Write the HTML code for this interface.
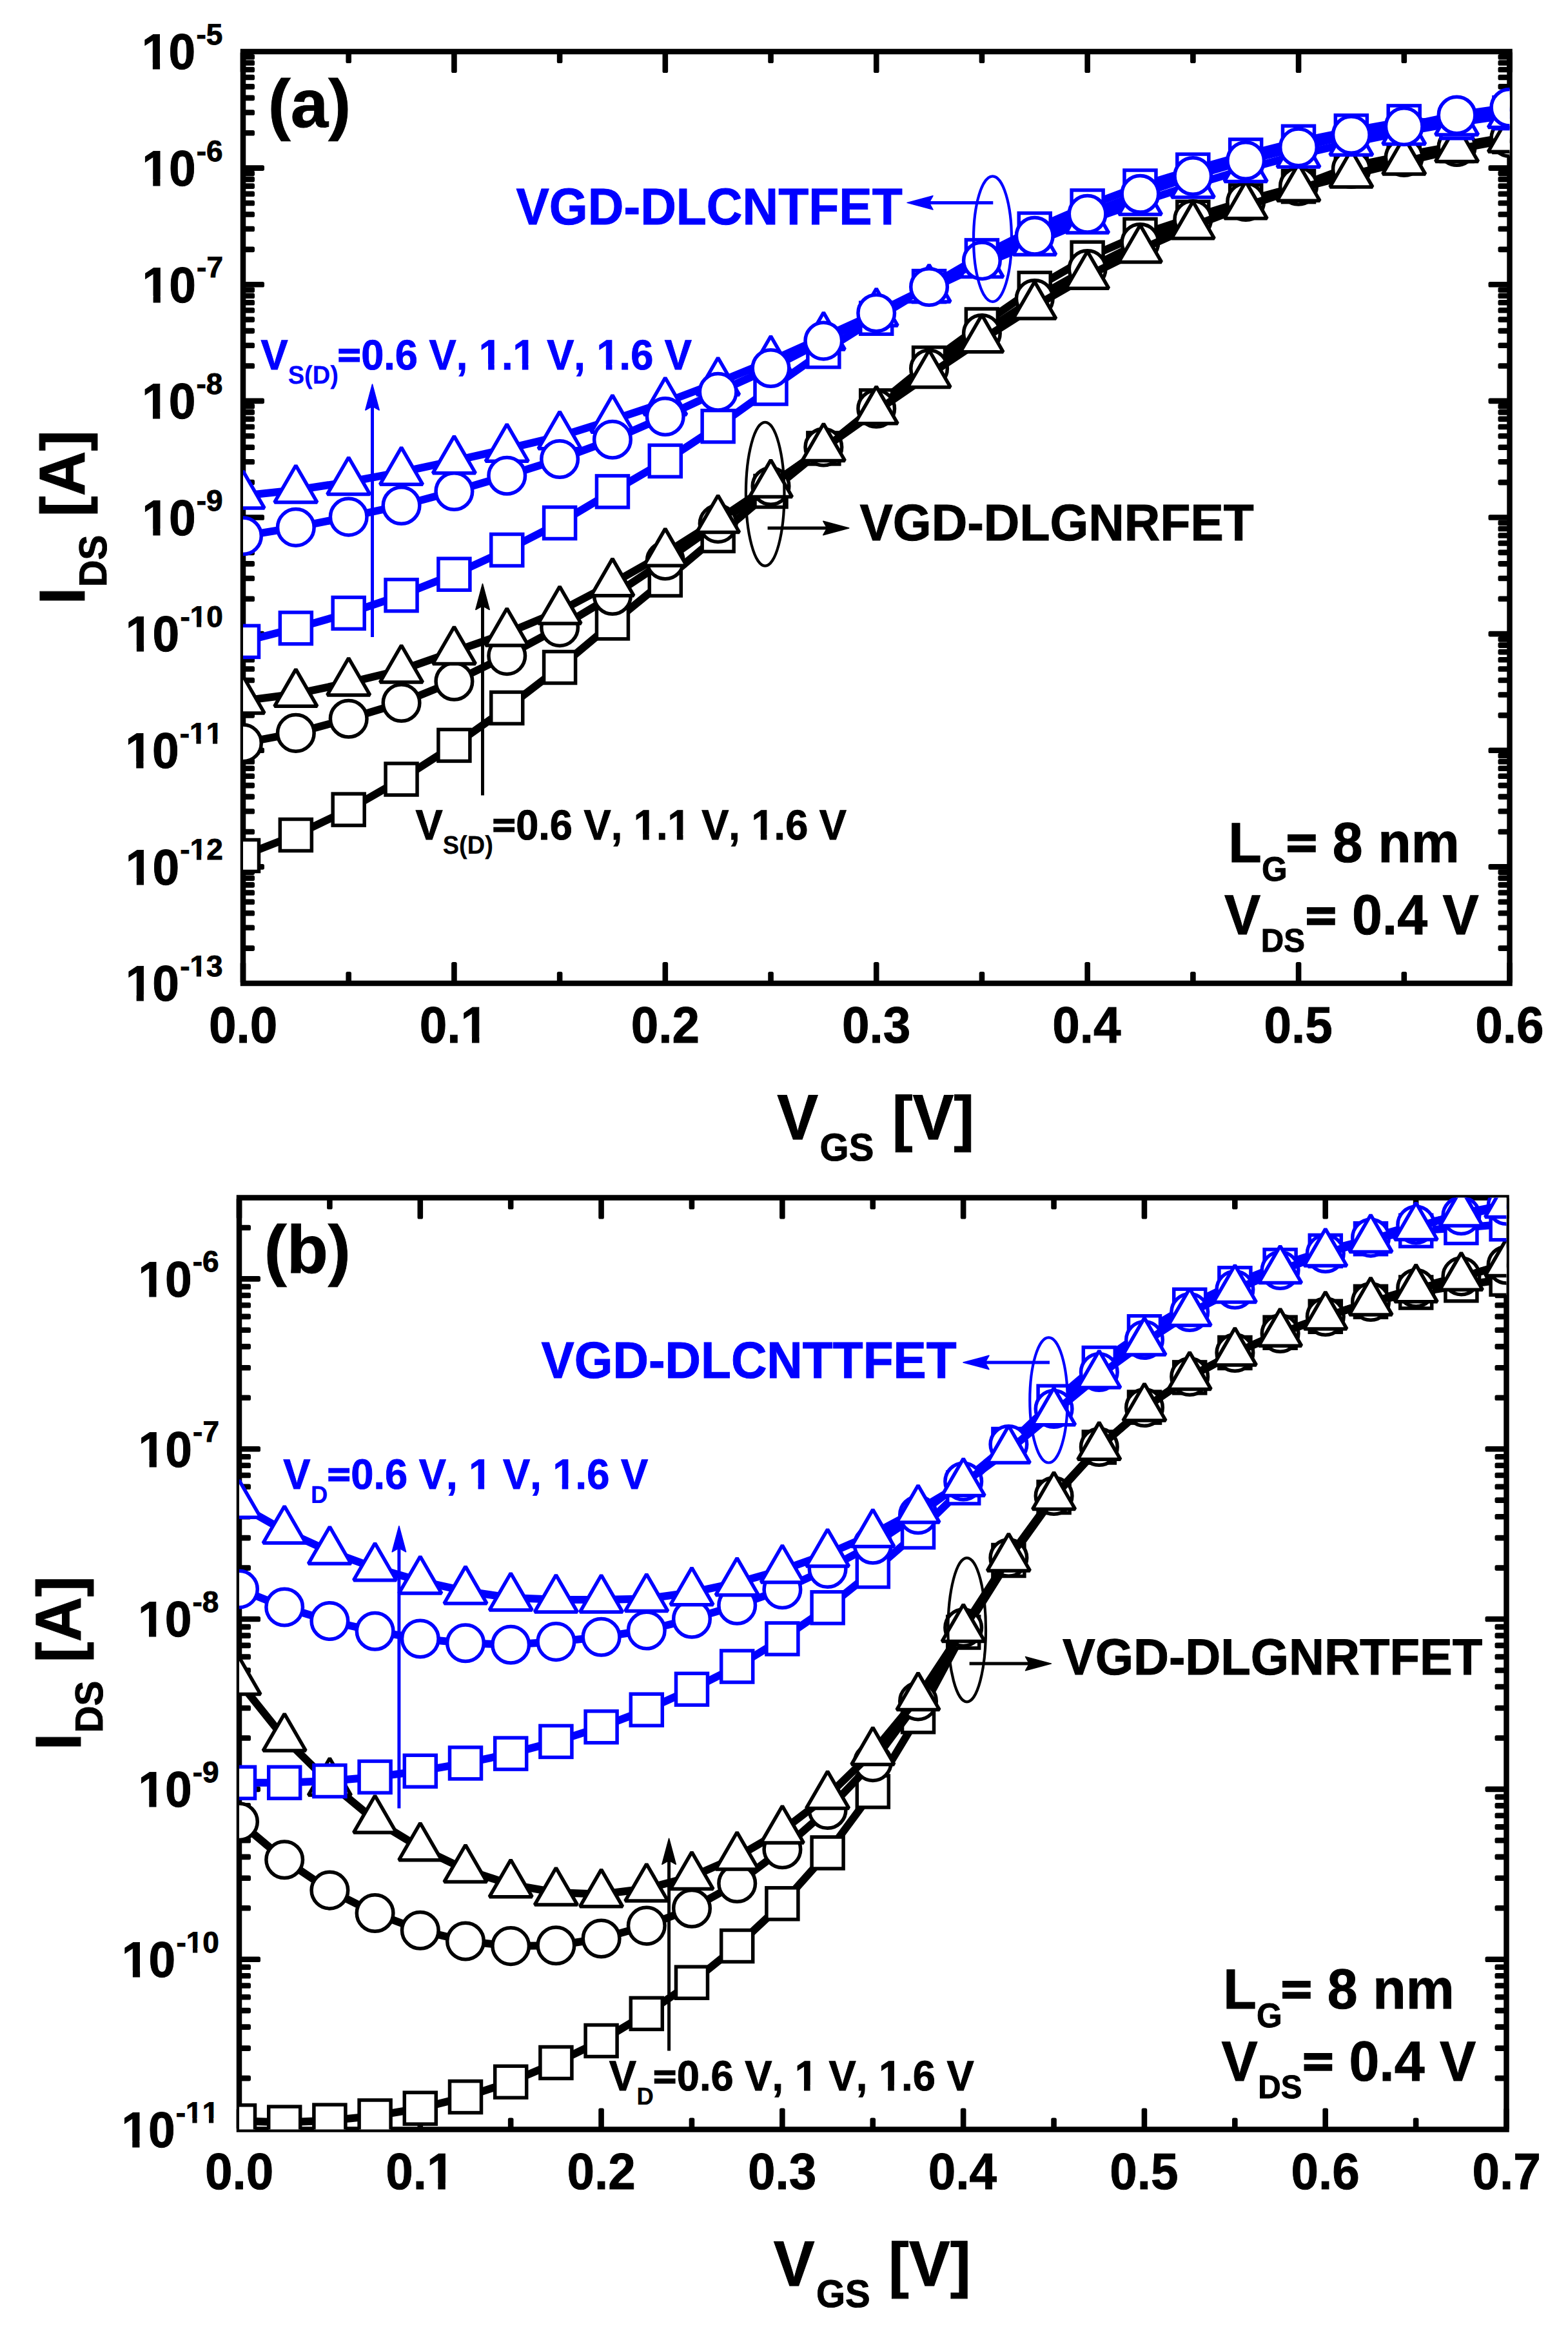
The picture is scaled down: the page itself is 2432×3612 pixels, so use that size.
<!DOCTYPE html>
<html><head><meta charset="utf-8"><title>I-V characteristics</title>
<style>html,body{margin:0;padding:0;background:#fff;}svg{display:block;}</style>
</head><body>
<svg width="2432" height="3612" viewBox="0 0 2432 3612" font-family="'Liberation Sans', Arial, sans-serif" style="font-kerning:none" text-rendering="geometricPrecision">
<rect width="100%" height="100%" fill="#fff"/>
<defs>
<clipPath id="ca"><rect x="377" y="80" width="1964.5" height="1445"/></clipPath>
<clipPath id="cb"><rect x="371" y="1857.5" width="1965.5" height="1445"/></clipPath>
</defs>
<rect x="377" y="80" width="1964.5" height="1445" fill="none" stroke="#000" stroke-width="8.5"/>
<g fill="#000"><rect x="372.7" y="1492" width="8.6" height="33" rx="2.6"/><rect x="372.7" y="80" width="8.6" height="33" rx="2.6"/><rect x="700.12" y="1492" width="8.6" height="33" rx="2.6"/><rect x="700.12" y="80" width="8.6" height="33" rx="2.6"/><rect x="1027.53" y="1492" width="8.6" height="33" rx="2.6"/><rect x="1027.53" y="80" width="8.6" height="33" rx="2.6"/><rect x="1354.95" y="1492" width="8.6" height="33" rx="2.6"/><rect x="1354.95" y="80" width="8.6" height="33" rx="2.6"/><rect x="1682.37" y="1492" width="8.6" height="33" rx="2.6"/><rect x="1682.37" y="80" width="8.6" height="33" rx="2.6"/><rect x="2009.78" y="1492" width="8.6" height="33" rx="2.6"/><rect x="2009.78" y="80" width="8.6" height="33" rx="2.6"/><rect x="2337.2" y="1492" width="8.6" height="33" rx="2.6"/><rect x="2337.2" y="80" width="8.6" height="33" rx="2.6"/><rect x="536.41" y="1507" width="8.6" height="18" rx="2.6"/><rect x="536.41" y="80" width="8.6" height="18" rx="2.6"/><rect x="863.83" y="1507" width="8.6" height="18" rx="2.6"/><rect x="863.83" y="80" width="8.6" height="18" rx="2.6"/><rect x="1191.24" y="1507" width="8.6" height="18" rx="2.6"/><rect x="1191.24" y="80" width="8.6" height="18" rx="2.6"/><rect x="1518.66" y="1507" width="8.6" height="18" rx="2.6"/><rect x="1518.66" y="80" width="8.6" height="18" rx="2.6"/><rect x="1846.08" y="1507" width="8.6" height="18" rx="2.6"/><rect x="1846.08" y="80" width="8.6" height="18" rx="2.6"/><rect x="2173.49" y="1507" width="8.6" height="18" rx="2.6"/><rect x="2173.49" y="80" width="8.6" height="18" rx="2.6"/><rect x="377" y="1466.33" width="18" height="8.6" rx="2.6"/><rect x="2323.5" y="1466.33" width="18" height="8.6" rx="2.6"/><rect x="377" y="1434.52" width="18" height="8.6" rx="2.6"/><rect x="2323.5" y="1434.52" width="18" height="8.6" rx="2.6"/><rect x="377" y="1411.95" width="18" height="8.6" rx="2.6"/><rect x="2323.5" y="1411.95" width="18" height="8.6" rx="2.6"/><rect x="377" y="1394.45" width="18" height="8.6" rx="2.6"/><rect x="2323.5" y="1394.45" width="18" height="8.6" rx="2.6"/><rect x="377" y="1380.15" width="18" height="8.6" rx="2.6"/><rect x="2323.5" y="1380.15" width="18" height="8.6" rx="2.6"/><rect x="377" y="1368.05" width="18" height="8.6" rx="2.6"/><rect x="2323.5" y="1368.05" width="18" height="8.6" rx="2.6"/><rect x="377" y="1357.58" width="18" height="8.6" rx="2.6"/><rect x="2323.5" y="1357.58" width="18" height="8.6" rx="2.6"/><rect x="377" y="1348.34" width="18" height="8.6" rx="2.6"/><rect x="2323.5" y="1348.34" width="18" height="8.6" rx="2.6"/><rect x="377" y="1340.08" width="33" height="8.6" rx="2.6"/><rect x="2308.5" y="1340.08" width="33" height="8.6" rx="2.6"/><rect x="377" y="1285.7" width="18" height="8.6" rx="2.6"/><rect x="2323.5" y="1285.7" width="18" height="8.6" rx="2.6"/><rect x="377" y="1253.89" width="18" height="8.6" rx="2.6"/><rect x="2323.5" y="1253.89" width="18" height="8.6" rx="2.6"/><rect x="377" y="1231.33" width="18" height="8.6" rx="2.6"/><rect x="2323.5" y="1231.33" width="18" height="8.6" rx="2.6"/><rect x="377" y="1213.82" width="18" height="8.6" rx="2.6"/><rect x="2323.5" y="1213.82" width="18" height="8.6" rx="2.6"/><rect x="377" y="1199.52" width="18" height="8.6" rx="2.6"/><rect x="2323.5" y="1199.52" width="18" height="8.6" rx="2.6"/><rect x="377" y="1187.43" width="18" height="8.6" rx="2.6"/><rect x="2323.5" y="1187.43" width="18" height="8.6" rx="2.6"/><rect x="377" y="1176.95" width="18" height="8.6" rx="2.6"/><rect x="2323.5" y="1176.95" width="18" height="8.6" rx="2.6"/><rect x="377" y="1167.71" width="18" height="8.6" rx="2.6"/><rect x="2323.5" y="1167.71" width="18" height="8.6" rx="2.6"/><rect x="377" y="1159.45" width="33" height="8.6" rx="2.6"/><rect x="2308.5" y="1159.45" width="33" height="8.6" rx="2.6"/><rect x="377" y="1105.08" width="18" height="8.6" rx="2.6"/><rect x="2323.5" y="1105.08" width="18" height="8.6" rx="2.6"/><rect x="377" y="1073.27" width="18" height="8.6" rx="2.6"/><rect x="2323.5" y="1073.27" width="18" height="8.6" rx="2.6"/><rect x="377" y="1050.7" width="18" height="8.6" rx="2.6"/><rect x="2323.5" y="1050.7" width="18" height="8.6" rx="2.6"/><rect x="377" y="1033.2" width="18" height="8.6" rx="2.6"/><rect x="2323.5" y="1033.2" width="18" height="8.6" rx="2.6"/><rect x="377" y="1018.9" width="18" height="8.6" rx="2.6"/><rect x="2323.5" y="1018.9" width="18" height="8.6" rx="2.6"/><rect x="377" y="1006.8" width="18" height="8.6" rx="2.6"/><rect x="2323.5" y="1006.8" width="18" height="8.6" rx="2.6"/><rect x="377" y="996.33" width="18" height="8.6" rx="2.6"/><rect x="2323.5" y="996.33" width="18" height="8.6" rx="2.6"/><rect x="377" y="987.09" width="18" height="8.6" rx="2.6"/><rect x="2323.5" y="987.09" width="18" height="8.6" rx="2.6"/><rect x="377" y="978.83" width="33" height="8.6" rx="2.6"/><rect x="2308.5" y="978.83" width="33" height="8.6" rx="2.6"/><rect x="377" y="924.45" width="18" height="8.6" rx="2.6"/><rect x="2323.5" y="924.45" width="18" height="8.6" rx="2.6"/><rect x="377" y="892.64" width="18" height="8.6" rx="2.6"/><rect x="2323.5" y="892.64" width="18" height="8.6" rx="2.6"/><rect x="377" y="870.08" width="18" height="8.6" rx="2.6"/><rect x="2323.5" y="870.08" width="18" height="8.6" rx="2.6"/><rect x="377" y="852.57" width="18" height="8.6" rx="2.6"/><rect x="2323.5" y="852.57" width="18" height="8.6" rx="2.6"/><rect x="377" y="838.27" width="18" height="8.6" rx="2.6"/><rect x="2323.5" y="838.27" width="18" height="8.6" rx="2.6"/><rect x="377" y="826.18" width="18" height="8.6" rx="2.6"/><rect x="2323.5" y="826.18" width="18" height="8.6" rx="2.6"/><rect x="377" y="815.7" width="18" height="8.6" rx="2.6"/><rect x="2323.5" y="815.7" width="18" height="8.6" rx="2.6"/><rect x="377" y="806.46" width="18" height="8.6" rx="2.6"/><rect x="2323.5" y="806.46" width="18" height="8.6" rx="2.6"/><rect x="377" y="798.2" width="33" height="8.6" rx="2.6"/><rect x="2308.5" y="798.2" width="33" height="8.6" rx="2.6"/><rect x="377" y="743.83" width="18" height="8.6" rx="2.6"/><rect x="2323.5" y="743.83" width="18" height="8.6" rx="2.6"/><rect x="377" y="712.02" width="18" height="8.6" rx="2.6"/><rect x="2323.5" y="712.02" width="18" height="8.6" rx="2.6"/><rect x="377" y="689.45" width="18" height="8.6" rx="2.6"/><rect x="2323.5" y="689.45" width="18" height="8.6" rx="2.6"/><rect x="377" y="671.95" width="18" height="8.6" rx="2.6"/><rect x="2323.5" y="671.95" width="18" height="8.6" rx="2.6"/><rect x="377" y="657.65" width="18" height="8.6" rx="2.6"/><rect x="2323.5" y="657.65" width="18" height="8.6" rx="2.6"/><rect x="377" y="645.55" width="18" height="8.6" rx="2.6"/><rect x="2323.5" y="645.55" width="18" height="8.6" rx="2.6"/><rect x="377" y="635.08" width="18" height="8.6" rx="2.6"/><rect x="2323.5" y="635.08" width="18" height="8.6" rx="2.6"/><rect x="377" y="625.84" width="18" height="8.6" rx="2.6"/><rect x="2323.5" y="625.84" width="18" height="8.6" rx="2.6"/><rect x="377" y="617.58" width="33" height="8.6" rx="2.6"/><rect x="2308.5" y="617.58" width="33" height="8.6" rx="2.6"/><rect x="377" y="563.2" width="18" height="8.6" rx="2.6"/><rect x="2323.5" y="563.2" width="18" height="8.6" rx="2.6"/><rect x="377" y="531.39" width="18" height="8.6" rx="2.6"/><rect x="2323.5" y="531.39" width="18" height="8.6" rx="2.6"/><rect x="377" y="508.83" width="18" height="8.6" rx="2.6"/><rect x="2323.5" y="508.83" width="18" height="8.6" rx="2.6"/><rect x="377" y="491.32" width="18" height="8.6" rx="2.6"/><rect x="2323.5" y="491.32" width="18" height="8.6" rx="2.6"/><rect x="377" y="477.02" width="18" height="8.6" rx="2.6"/><rect x="2323.5" y="477.02" width="18" height="8.6" rx="2.6"/><rect x="377" y="464.93" width="18" height="8.6" rx="2.6"/><rect x="2323.5" y="464.93" width="18" height="8.6" rx="2.6"/><rect x="377" y="454.45" width="18" height="8.6" rx="2.6"/><rect x="2323.5" y="454.45" width="18" height="8.6" rx="2.6"/><rect x="377" y="445.21" width="18" height="8.6" rx="2.6"/><rect x="2323.5" y="445.21" width="18" height="8.6" rx="2.6"/><rect x="377" y="436.95" width="33" height="8.6" rx="2.6"/><rect x="2308.5" y="436.95" width="33" height="8.6" rx="2.6"/><rect x="377" y="382.58" width="18" height="8.6" rx="2.6"/><rect x="2323.5" y="382.58" width="18" height="8.6" rx="2.6"/><rect x="377" y="350.77" width="18" height="8.6" rx="2.6"/><rect x="2323.5" y="350.77" width="18" height="8.6" rx="2.6"/><rect x="377" y="328.2" width="18" height="8.6" rx="2.6"/><rect x="2323.5" y="328.2" width="18" height="8.6" rx="2.6"/><rect x="377" y="310.7" width="18" height="8.6" rx="2.6"/><rect x="2323.5" y="310.7" width="18" height="8.6" rx="2.6"/><rect x="377" y="296.4" width="18" height="8.6" rx="2.6"/><rect x="2323.5" y="296.4" width="18" height="8.6" rx="2.6"/><rect x="377" y="284.3" width="18" height="8.6" rx="2.6"/><rect x="2323.5" y="284.3" width="18" height="8.6" rx="2.6"/><rect x="377" y="273.83" width="18" height="8.6" rx="2.6"/><rect x="2323.5" y="273.83" width="18" height="8.6" rx="2.6"/><rect x="377" y="264.59" width="18" height="8.6" rx="2.6"/><rect x="2323.5" y="264.59" width="18" height="8.6" rx="2.6"/><rect x="377" y="256.32" width="33" height="8.6" rx="2.6"/><rect x="2308.5" y="256.32" width="33" height="8.6" rx="2.6"/><rect x="377" y="201.95" width="18" height="8.6" rx="2.6"/><rect x="2323.5" y="201.95" width="18" height="8.6" rx="2.6"/><rect x="377" y="170.14" width="18" height="8.6" rx="2.6"/><rect x="2323.5" y="170.14" width="18" height="8.6" rx="2.6"/><rect x="377" y="147.58" width="18" height="8.6" rx="2.6"/><rect x="2323.5" y="147.58" width="18" height="8.6" rx="2.6"/><rect x="377" y="130.07" width="18" height="8.6" rx="2.6"/><rect x="2323.5" y="130.07" width="18" height="8.6" rx="2.6"/><rect x="377" y="115.77" width="18" height="8.6" rx="2.6"/><rect x="2323.5" y="115.77" width="18" height="8.6" rx="2.6"/><rect x="377" y="103.68" width="18" height="8.6" rx="2.6"/><rect x="2323.5" y="103.68" width="18" height="8.6" rx="2.6"/><rect x="377" y="93.2" width="18" height="8.6" rx="2.6"/><rect x="2323.5" y="93.2" width="18" height="8.6" rx="2.6"/><rect x="377" y="83.96" width="18" height="8.6" rx="2.6"/><rect x="2323.5" y="83.96" width="18" height="8.6" rx="2.6"/></g>
<rect x="371" y="1857.5" width="1965.5" height="1445" fill="none" stroke="#000" stroke-width="8.5"/>
<g fill="#000"><rect x="366.7" y="3269.5" width="8.6" height="33" rx="2.6"/><rect x="366.7" y="1857.5" width="8.6" height="33" rx="2.6"/><rect x="647.49" y="3269.5" width="8.6" height="33" rx="2.6"/><rect x="647.49" y="1857.5" width="8.6" height="33" rx="2.6"/><rect x="928.27" y="3269.5" width="8.6" height="33" rx="2.6"/><rect x="928.27" y="1857.5" width="8.6" height="33" rx="2.6"/><rect x="1209.06" y="3269.5" width="8.6" height="33" rx="2.6"/><rect x="1209.06" y="1857.5" width="8.6" height="33" rx="2.6"/><rect x="1489.84" y="3269.5" width="8.6" height="33" rx="2.6"/><rect x="1489.84" y="1857.5" width="8.6" height="33" rx="2.6"/><rect x="1770.63" y="3269.5" width="8.6" height="33" rx="2.6"/><rect x="1770.63" y="1857.5" width="8.6" height="33" rx="2.6"/><rect x="2051.41" y="3269.5" width="8.6" height="33" rx="2.6"/><rect x="2051.41" y="1857.5" width="8.6" height="33" rx="2.6"/><rect x="2332.2" y="3269.5" width="8.6" height="33" rx="2.6"/><rect x="2332.2" y="1857.5" width="8.6" height="33" rx="2.6"/><rect x="507.09" y="3284.5" width="8.6" height="18" rx="2.6"/><rect x="507.09" y="1857.5" width="8.6" height="18" rx="2.6"/><rect x="787.88" y="3284.5" width="8.6" height="18" rx="2.6"/><rect x="787.88" y="1857.5" width="8.6" height="18" rx="2.6"/><rect x="1068.66" y="3284.5" width="8.6" height="18" rx="2.6"/><rect x="1068.66" y="1857.5" width="8.6" height="18" rx="2.6"/><rect x="1349.45" y="3284.5" width="8.6" height="18" rx="2.6"/><rect x="1349.45" y="1857.5" width="8.6" height="18" rx="2.6"/><rect x="1630.24" y="3284.5" width="8.6" height="18" rx="2.6"/><rect x="1630.24" y="1857.5" width="8.6" height="18" rx="2.6"/><rect x="1911.02" y="3284.5" width="8.6" height="18" rx="2.6"/><rect x="1911.02" y="1857.5" width="8.6" height="18" rx="2.6"/><rect x="2191.81" y="3284.5" width="8.6" height="18" rx="2.6"/><rect x="2191.81" y="1857.5" width="8.6" height="18" rx="2.6"/><rect x="371" y="3218.78" width="18" height="8.6" rx="2.6"/><rect x="2318.5" y="3218.78" width="18" height="8.6" rx="2.6"/><rect x="371" y="3172.32" width="18" height="8.6" rx="2.6"/><rect x="2318.5" y="3172.32" width="18" height="8.6" rx="2.6"/><rect x="371" y="3139.36" width="18" height="8.6" rx="2.6"/><rect x="2318.5" y="3139.36" width="18" height="8.6" rx="2.6"/><rect x="371" y="3113.79" width="18" height="8.6" rx="2.6"/><rect x="2318.5" y="3113.79" width="18" height="8.6" rx="2.6"/><rect x="371" y="3092.9" width="18" height="8.6" rx="2.6"/><rect x="2318.5" y="3092.9" width="18" height="8.6" rx="2.6"/><rect x="371" y="3075.24" width="18" height="8.6" rx="2.6"/><rect x="2318.5" y="3075.24" width="18" height="8.6" rx="2.6"/><rect x="371" y="3059.94" width="18" height="8.6" rx="2.6"/><rect x="2318.5" y="3059.94" width="18" height="8.6" rx="2.6"/><rect x="371" y="3046.45" width="18" height="8.6" rx="2.6"/><rect x="2318.5" y="3046.45" width="18" height="8.6" rx="2.6"/><rect x="371" y="3034.38" width="33" height="8.6" rx="2.6"/><rect x="2303.5" y="3034.38" width="33" height="8.6" rx="2.6"/><rect x="371" y="2954.96" width="18" height="8.6" rx="2.6"/><rect x="2318.5" y="2954.96" width="18" height="8.6" rx="2.6"/><rect x="371" y="2908.5" width="18" height="8.6" rx="2.6"/><rect x="2318.5" y="2908.5" width="18" height="8.6" rx="2.6"/><rect x="371" y="2875.54" width="18" height="8.6" rx="2.6"/><rect x="2318.5" y="2875.54" width="18" height="8.6" rx="2.6"/><rect x="371" y="2849.97" width="18" height="8.6" rx="2.6"/><rect x="2318.5" y="2849.97" width="18" height="8.6" rx="2.6"/><rect x="371" y="2829.08" width="18" height="8.6" rx="2.6"/><rect x="2318.5" y="2829.08" width="18" height="8.6" rx="2.6"/><rect x="371" y="2811.42" width="18" height="8.6" rx="2.6"/><rect x="2318.5" y="2811.42" width="18" height="8.6" rx="2.6"/><rect x="371" y="2796.12" width="18" height="8.6" rx="2.6"/><rect x="2318.5" y="2796.12" width="18" height="8.6" rx="2.6"/><rect x="371" y="2782.62" width="18" height="8.6" rx="2.6"/><rect x="2318.5" y="2782.62" width="18" height="8.6" rx="2.6"/><rect x="371" y="2770.55" width="33" height="8.6" rx="2.6"/><rect x="2303.5" y="2770.55" width="33" height="8.6" rx="2.6"/><rect x="371" y="2691.13" width="18" height="8.6" rx="2.6"/><rect x="2318.5" y="2691.13" width="18" height="8.6" rx="2.6"/><rect x="371" y="2644.67" width="18" height="8.6" rx="2.6"/><rect x="2318.5" y="2644.67" width="18" height="8.6" rx="2.6"/><rect x="371" y="2611.71" width="18" height="8.6" rx="2.6"/><rect x="2318.5" y="2611.71" width="18" height="8.6" rx="2.6"/><rect x="371" y="2586.14" width="18" height="8.6" rx="2.6"/><rect x="2318.5" y="2586.14" width="18" height="8.6" rx="2.6"/><rect x="371" y="2565.26" width="18" height="8.6" rx="2.6"/><rect x="2318.5" y="2565.26" width="18" height="8.6" rx="2.6"/><rect x="371" y="2547.59" width="18" height="8.6" rx="2.6"/><rect x="2318.5" y="2547.59" width="18" height="8.6" rx="2.6"/><rect x="371" y="2532.29" width="18" height="8.6" rx="2.6"/><rect x="2318.5" y="2532.29" width="18" height="8.6" rx="2.6"/><rect x="371" y="2518.8" width="18" height="8.6" rx="2.6"/><rect x="2318.5" y="2518.8" width="18" height="8.6" rx="2.6"/><rect x="371" y="2506.73" width="33" height="8.6" rx="2.6"/><rect x="2303.5" y="2506.73" width="33" height="8.6" rx="2.6"/><rect x="371" y="2427.31" width="18" height="8.6" rx="2.6"/><rect x="2318.5" y="2427.31" width="18" height="8.6" rx="2.6"/><rect x="371" y="2380.85" width="18" height="8.6" rx="2.6"/><rect x="2318.5" y="2380.85" width="18" height="8.6" rx="2.6"/><rect x="371" y="2347.89" width="18" height="8.6" rx="2.6"/><rect x="2318.5" y="2347.89" width="18" height="8.6" rx="2.6"/><rect x="371" y="2322.32" width="18" height="8.6" rx="2.6"/><rect x="2318.5" y="2322.32" width="18" height="8.6" rx="2.6"/><rect x="371" y="2301.43" width="18" height="8.6" rx="2.6"/><rect x="2318.5" y="2301.43" width="18" height="8.6" rx="2.6"/><rect x="371" y="2283.77" width="18" height="8.6" rx="2.6"/><rect x="2318.5" y="2283.77" width="18" height="8.6" rx="2.6"/><rect x="371" y="2268.47" width="18" height="8.6" rx="2.6"/><rect x="2318.5" y="2268.47" width="18" height="8.6" rx="2.6"/><rect x="371" y="2254.97" width="18" height="8.6" rx="2.6"/><rect x="2318.5" y="2254.97" width="18" height="8.6" rx="2.6"/><rect x="371" y="2242.9" width="33" height="8.6" rx="2.6"/><rect x="2303.5" y="2242.9" width="33" height="8.6" rx="2.6"/><rect x="371" y="2163.48" width="18" height="8.6" rx="2.6"/><rect x="2318.5" y="2163.48" width="18" height="8.6" rx="2.6"/><rect x="371" y="2117.02" width="18" height="8.6" rx="2.6"/><rect x="2318.5" y="2117.02" width="18" height="8.6" rx="2.6"/><rect x="371" y="2084.06" width="18" height="8.6" rx="2.6"/><rect x="2318.5" y="2084.06" width="18" height="8.6" rx="2.6"/><rect x="371" y="2058.5" width="18" height="8.6" rx="2.6"/><rect x="2318.5" y="2058.5" width="18" height="8.6" rx="2.6"/><rect x="371" y="2037.61" width="18" height="8.6" rx="2.6"/><rect x="2318.5" y="2037.61" width="18" height="8.6" rx="2.6"/><rect x="371" y="2019.94" width="18" height="8.6" rx="2.6"/><rect x="2318.5" y="2019.94" width="18" height="8.6" rx="2.6"/><rect x="371" y="2004.64" width="18" height="8.6" rx="2.6"/><rect x="2318.5" y="2004.64" width="18" height="8.6" rx="2.6"/><rect x="371" y="1991.15" width="18" height="8.6" rx="2.6"/><rect x="2318.5" y="1991.15" width="18" height="8.6" rx="2.6"/><rect x="371" y="1979.08" width="33" height="8.6" rx="2.6"/><rect x="2303.5" y="1979.08" width="33" height="8.6" rx="2.6"/><rect x="371" y="1899.66" width="18" height="8.6" rx="2.6"/><rect x="2318.5" y="1899.66" width="18" height="8.6" rx="2.6"/></g>
<g clip-path="url(#ca)">
<polyline points="377,1327 458.85,1295 540.7,1255.6 622.55,1208.5 704.4,1155.9 786.25,1097.9 868.1,1035 949.95,966.4 1031.8,899.5 1113.65,830.9 1195.5,762 1277.35,695.4 1359.2,629.4 1441.05,563 1522.9,503.5 1604.75,447 1686.6,399.8 1768.45,364 1850.3,336.9 1932.15,311.4 2014,289.1 2095.85,258 2177.7,241 2259.55,226 2341.4,212" fill="none" stroke="#000" stroke-width="12" stroke-linejoin="round"/>
<rect x="352.5" y="1302.5" width="49.0" height="49.0" fill="#fff" stroke="#000" stroke-width="5.5"/>
<rect x="434.35" y="1270.5" width="49.0" height="49.0" fill="#fff" stroke="#000" stroke-width="5.5"/>
<rect x="516.2" y="1231.1" width="49.0" height="49.0" fill="#fff" stroke="#000" stroke-width="5.5"/>
<rect x="598.05" y="1184" width="49.0" height="49.0" fill="#fff" stroke="#000" stroke-width="5.5"/>
<rect x="679.9" y="1131.4" width="49.0" height="49.0" fill="#fff" stroke="#000" stroke-width="5.5"/>
<rect x="761.75" y="1073.4" width="49.0" height="49.0" fill="#fff" stroke="#000" stroke-width="5.5"/>
<rect x="843.6" y="1010.5" width="49.0" height="49.0" fill="#fff" stroke="#000" stroke-width="5.5"/>
<rect x="925.45" y="941.9" width="49.0" height="49.0" fill="#fff" stroke="#000" stroke-width="5.5"/>
<rect x="1007.3" y="875" width="49.0" height="49.0" fill="#fff" stroke="#000" stroke-width="5.5"/>
<rect x="1089.15" y="806.4" width="49.0" height="49.0" fill="#fff" stroke="#000" stroke-width="5.5"/>
<rect x="1171" y="737.5" width="49.0" height="49.0" fill="#fff" stroke="#000" stroke-width="5.5"/>
<rect x="1252.85" y="670.9" width="49.0" height="49.0" fill="#fff" stroke="#000" stroke-width="5.5"/>
<rect x="1334.7" y="604.9" width="49.0" height="49.0" fill="#fff" stroke="#000" stroke-width="5.5"/>
<rect x="1416.55" y="538.5" width="49.0" height="49.0" fill="#fff" stroke="#000" stroke-width="5.5"/>
<rect x="1498.4" y="479" width="49.0" height="49.0" fill="#fff" stroke="#000" stroke-width="5.5"/>
<rect x="1580.25" y="422.5" width="49.0" height="49.0" fill="#fff" stroke="#000" stroke-width="5.5"/>
<rect x="1662.1" y="375.3" width="49.0" height="49.0" fill="#fff" stroke="#000" stroke-width="5.5"/>
<rect x="1743.95" y="339.5" width="49.0" height="49.0" fill="#fff" stroke="#000" stroke-width="5.5"/>
<rect x="1825.8" y="312.4" width="49.0" height="49.0" fill="#fff" stroke="#000" stroke-width="5.5"/>
<rect x="1907.65" y="286.9" width="49.0" height="49.0" fill="#fff" stroke="#000" stroke-width="5.5"/>
<rect x="1989.5" y="264.6" width="49.0" height="49.0" fill="#fff" stroke="#000" stroke-width="5.5"/>
<rect x="2071.35" y="233.5" width="49.0" height="49.0" fill="#fff" stroke="#000" stroke-width="5.5"/>
<rect x="2153.2" y="216.5" width="49.0" height="49.0" fill="#fff" stroke="#000" stroke-width="5.5"/>
<rect x="2235.05" y="201.5" width="49.0" height="49.0" fill="#fff" stroke="#000" stroke-width="5.5"/>
<rect x="2316.9" y="187.5" width="49.0" height="49.0" fill="#fff" stroke="#000" stroke-width="5.5"/>
</g>
<g clip-path="url(#ca)">
<polyline points="377,1152.4 458.85,1136.9 540.7,1114.8 622.55,1090 704.4,1056.8 786.25,1017.1 868.1,973.1 949.95,924 1031.8,869.5 1113.65,812.1 1195.5,754 1277.35,693.5 1359.2,633.8 1441.05,571.6 1522.9,517 1604.75,463 1686.6,417 1768.45,376 1850.3,340 1932.15,313 2014,288.7 2095.85,262 2177.7,244 2259.55,228 2341.4,214" fill="none" stroke="#000" stroke-width="12" stroke-linejoin="round"/>
<circle cx="377" cy="1152.4" r="28.3" fill="#fff" stroke="#000" stroke-width="5.5"/>
<circle cx="458.85" cy="1136.9" r="28.3" fill="#fff" stroke="#000" stroke-width="5.5"/>
<circle cx="540.7" cy="1114.8" r="28.3" fill="#fff" stroke="#000" stroke-width="5.5"/>
<circle cx="622.55" cy="1090" r="28.3" fill="#fff" stroke="#000" stroke-width="5.5"/>
<circle cx="704.4" cy="1056.8" r="28.3" fill="#fff" stroke="#000" stroke-width="5.5"/>
<circle cx="786.25" cy="1017.1" r="28.3" fill="#fff" stroke="#000" stroke-width="5.5"/>
<circle cx="868.1" cy="973.1" r="28.3" fill="#fff" stroke="#000" stroke-width="5.5"/>
<circle cx="949.95" cy="924" r="28.3" fill="#fff" stroke="#000" stroke-width="5.5"/>
<circle cx="1031.8" cy="869.5" r="28.3" fill="#fff" stroke="#000" stroke-width="5.5"/>
<circle cx="1113.65" cy="812.1" r="28.3" fill="#fff" stroke="#000" stroke-width="5.5"/>
<circle cx="1195.5" cy="754" r="28.3" fill="#fff" stroke="#000" stroke-width="5.5"/>
<circle cx="1277.35" cy="693.5" r="28.3" fill="#fff" stroke="#000" stroke-width="5.5"/>
<circle cx="1359.2" cy="633.8" r="28.3" fill="#fff" stroke="#000" stroke-width="5.5"/>
<circle cx="1441.05" cy="571.6" r="28.3" fill="#fff" stroke="#000" stroke-width="5.5"/>
<circle cx="1522.9" cy="517" r="28.3" fill="#fff" stroke="#000" stroke-width="5.5"/>
<circle cx="1604.75" cy="463" r="28.3" fill="#fff" stroke="#000" stroke-width="5.5"/>
<circle cx="1686.6" cy="417" r="28.3" fill="#fff" stroke="#000" stroke-width="5.5"/>
<circle cx="1768.45" cy="376" r="28.3" fill="#fff" stroke="#000" stroke-width="5.5"/>
<circle cx="1850.3" cy="340" r="28.3" fill="#fff" stroke="#000" stroke-width="5.5"/>
<circle cx="1932.15" cy="313" r="28.3" fill="#fff" stroke="#000" stroke-width="5.5"/>
<circle cx="2014" cy="288.7" r="28.3" fill="#fff" stroke="#000" stroke-width="5.5"/>
<circle cx="2095.85" cy="262" r="28.3" fill="#fff" stroke="#000" stroke-width="5.5"/>
<circle cx="2177.7" cy="244" r="28.3" fill="#fff" stroke="#000" stroke-width="5.5"/>
<circle cx="2259.55" cy="228" r="28.3" fill="#fff" stroke="#000" stroke-width="5.5"/>
<circle cx="2341.4" cy="214" r="28.3" fill="#fff" stroke="#000" stroke-width="5.5"/>
</g>
<g clip-path="url(#ca)">
<polyline points="377,1086.8 458.85,1076.2 540.7,1058.8 622.55,1039 704.4,1010.3 786.25,981.9 868.1,947.8 949.95,904.7 1031.8,858.2 1113.65,806.5 1195.5,751.5 1277.35,695.3 1359.2,637.7 1441.05,581.3 1522.9,526.7 1604.75,475 1686.6,428.1 1768.45,387.3 1850.3,350.7 1932.15,319.7 2014,292.2 2095.85,270.9 2177.7,250.9 2259.55,231.4 2341.4,216.1" fill="none" stroke="#000" stroke-width="12" stroke-linejoin="round"/>
<path d="M377 1048.6L410.1 1105.9L343.9 1105.9Z" fill="#fff" stroke="#000" stroke-width="5.5" stroke-linejoin="bevel"/>
<path d="M458.85 1038L491.95 1095.3L425.75 1095.3Z" fill="#fff" stroke="#000" stroke-width="5.5" stroke-linejoin="bevel"/>
<path d="M540.7 1020.6L573.8 1077.9L507.6 1077.9Z" fill="#fff" stroke="#000" stroke-width="5.5" stroke-linejoin="bevel"/>
<path d="M622.55 1000.8L655.65 1058.1L589.45 1058.1Z" fill="#fff" stroke="#000" stroke-width="5.5" stroke-linejoin="bevel"/>
<path d="M704.4 972.1L737.5 1029.4L671.3 1029.4Z" fill="#fff" stroke="#000" stroke-width="5.5" stroke-linejoin="bevel"/>
<path d="M786.25 943.7L819.35 1001L753.15 1001Z" fill="#fff" stroke="#000" stroke-width="5.5" stroke-linejoin="bevel"/>
<path d="M868.1 909.6L901.2 966.9L835 966.9Z" fill="#fff" stroke="#000" stroke-width="5.5" stroke-linejoin="bevel"/>
<path d="M949.95 866.5L983.05 923.8L916.85 923.8Z" fill="#fff" stroke="#000" stroke-width="5.5" stroke-linejoin="bevel"/>
<path d="M1031.8 820L1064.9 877.3L998.7 877.3Z" fill="#fff" stroke="#000" stroke-width="5.5" stroke-linejoin="bevel"/>
<path d="M1113.65 768.3L1146.75 825.6L1080.55 825.6Z" fill="#fff" stroke="#000" stroke-width="5.5" stroke-linejoin="bevel"/>
<path d="M1195.5 713.3L1228.6 770.6L1162.4 770.6Z" fill="#fff" stroke="#000" stroke-width="5.5" stroke-linejoin="bevel"/>
<path d="M1277.35 657.1L1310.45 714.4L1244.25 714.4Z" fill="#fff" stroke="#000" stroke-width="5.5" stroke-linejoin="bevel"/>
<path d="M1359.2 599.5L1392.3 656.8L1326.1 656.8Z" fill="#fff" stroke="#000" stroke-width="5.5" stroke-linejoin="bevel"/>
<path d="M1441.05 543.1L1474.15 600.4L1407.95 600.4Z" fill="#fff" stroke="#000" stroke-width="5.5" stroke-linejoin="bevel"/>
<path d="M1522.9 488.5L1556 545.8L1489.8 545.8Z" fill="#fff" stroke="#000" stroke-width="5.5" stroke-linejoin="bevel"/>
<path d="M1604.75 436.8L1637.85 494.1L1571.65 494.1Z" fill="#fff" stroke="#000" stroke-width="5.5" stroke-linejoin="bevel"/>
<path d="M1686.6 389.9L1719.7 447.2L1653.5 447.2Z" fill="#fff" stroke="#000" stroke-width="5.5" stroke-linejoin="bevel"/>
<path d="M1768.45 349.1L1801.55 406.4L1735.35 406.4Z" fill="#fff" stroke="#000" stroke-width="5.5" stroke-linejoin="bevel"/>
<path d="M1850.3 312.5L1883.4 369.8L1817.2 369.8Z" fill="#fff" stroke="#000" stroke-width="5.5" stroke-linejoin="bevel"/>
<path d="M1932.15 281.5L1965.25 338.8L1899.05 338.8Z" fill="#fff" stroke="#000" stroke-width="5.5" stroke-linejoin="bevel"/>
<path d="M2014 254L2047.1 311.3L1980.9 311.3Z" fill="#fff" stroke="#000" stroke-width="5.5" stroke-linejoin="bevel"/>
<path d="M2095.85 232.7L2128.95 290L2062.75 290Z" fill="#fff" stroke="#000" stroke-width="5.5" stroke-linejoin="bevel"/>
<path d="M2177.7 212.7L2210.8 270L2144.6 270Z" fill="#fff" stroke="#000" stroke-width="5.5" stroke-linejoin="bevel"/>
<path d="M2259.55 193.2L2292.65 250.5L2226.45 250.5Z" fill="#fff" stroke="#000" stroke-width="5.5" stroke-linejoin="bevel"/>
<path d="M2341.4 177.9L2374.5 235.2L2308.3 235.2Z" fill="#fff" stroke="#000" stroke-width="5.5" stroke-linejoin="bevel"/>
</g>
<g clip-path="url(#ca)">
<polyline points="377,994.9 458.85,974.2 540.7,950.9 622.55,923.2 704.4,890.7 786.25,853 868.1,811 949.95,762.4 1031.8,714.9 1113.65,661.1 1195.5,602.5 1277.35,545.1 1359.2,493.7 1441.05,444.1 1522.9,396.4 1604.75,355 1686.6,319.4 1768.45,288.5 1850.3,263.6 1932.15,240.6 2014,219.8 2095.85,203.2 2177.7,188.4 2259.55,190.2 2341.4,175.1" fill="none" stroke="#0000ff" stroke-width="12" stroke-linejoin="round"/>
<rect x="352.5" y="970.4" width="49.0" height="49.0" fill="#fff" stroke="#0000ff" stroke-width="5.5"/>
<rect x="434.35" y="949.7" width="49.0" height="49.0" fill="#fff" stroke="#0000ff" stroke-width="5.5"/>
<rect x="516.2" y="926.4" width="49.0" height="49.0" fill="#fff" stroke="#0000ff" stroke-width="5.5"/>
<rect x="598.05" y="898.7" width="49.0" height="49.0" fill="#fff" stroke="#0000ff" stroke-width="5.5"/>
<rect x="679.9" y="866.2" width="49.0" height="49.0" fill="#fff" stroke="#0000ff" stroke-width="5.5"/>
<rect x="761.75" y="828.5" width="49.0" height="49.0" fill="#fff" stroke="#0000ff" stroke-width="5.5"/>
<rect x="843.6" y="786.5" width="49.0" height="49.0" fill="#fff" stroke="#0000ff" stroke-width="5.5"/>
<rect x="925.45" y="737.9" width="49.0" height="49.0" fill="#fff" stroke="#0000ff" stroke-width="5.5"/>
<rect x="1007.3" y="690.4" width="49.0" height="49.0" fill="#fff" stroke="#0000ff" stroke-width="5.5"/>
<rect x="1089.15" y="636.6" width="49.0" height="49.0" fill="#fff" stroke="#0000ff" stroke-width="5.5"/>
<rect x="1171" y="578" width="49.0" height="49.0" fill="#fff" stroke="#0000ff" stroke-width="5.5"/>
<rect x="1252.85" y="520.6" width="49.0" height="49.0" fill="#fff" stroke="#0000ff" stroke-width="5.5"/>
<rect x="1334.7" y="469.2" width="49.0" height="49.0" fill="#fff" stroke="#0000ff" stroke-width="5.5"/>
<rect x="1416.55" y="419.6" width="49.0" height="49.0" fill="#fff" stroke="#0000ff" stroke-width="5.5"/>
<rect x="1498.4" y="371.9" width="49.0" height="49.0" fill="#fff" stroke="#0000ff" stroke-width="5.5"/>
<rect x="1580.25" y="330.5" width="49.0" height="49.0" fill="#fff" stroke="#0000ff" stroke-width="5.5"/>
<rect x="1662.1" y="294.9" width="49.0" height="49.0" fill="#fff" stroke="#0000ff" stroke-width="5.5"/>
<rect x="1743.95" y="264" width="49.0" height="49.0" fill="#fff" stroke="#0000ff" stroke-width="5.5"/>
<rect x="1825.8" y="239.1" width="49.0" height="49.0" fill="#fff" stroke="#0000ff" stroke-width="5.5"/>
<rect x="1907.65" y="216.1" width="49.0" height="49.0" fill="#fff" stroke="#0000ff" stroke-width="5.5"/>
<rect x="1989.5" y="195.3" width="49.0" height="49.0" fill="#fff" stroke="#0000ff" stroke-width="5.5"/>
<rect x="2071.35" y="178.7" width="49.0" height="49.0" fill="#fff" stroke="#0000ff" stroke-width="5.5"/>
<rect x="2153.2" y="163.9" width="49.0" height="49.0" fill="#fff" stroke="#0000ff" stroke-width="5.5"/>
<rect x="2235.05" y="165.7" width="49.0" height="49.0" fill="#fff" stroke="#0000ff" stroke-width="5.5"/>
<rect x="2316.9" y="150.6" width="49.0" height="49.0" fill="#fff" stroke="#0000ff" stroke-width="5.5"/>
</g>
<g clip-path="url(#ca)">
<polyline points="377,768.9 458.85,760 540.7,747.5 622.55,732.2 704.4,714.7 786.25,696.2 868.1,676.7 949.95,651.2 1031.8,624 1113.65,593.1 1195.5,559.6 1277.35,522.9 1359.2,485.8 1441.05,448.9 1522.9,410.3 1604.75,375.8 1686.6,342 1768.45,313.4 1850.3,286.9 1932.15,262.3 2014,240 2095.85,221.2 2177.7,204.3 2259.55,189.8 2341.4,178.4" fill="none" stroke="#0000ff" stroke-width="12" stroke-linejoin="round"/>
<path d="M377 730.7L410.1 788L343.9 788Z" fill="#fff" stroke="#0000ff" stroke-width="5.5" stroke-linejoin="bevel"/>
<path d="M458.85 721.8L491.95 779.1L425.75 779.1Z" fill="#fff" stroke="#0000ff" stroke-width="5.5" stroke-linejoin="bevel"/>
<path d="M540.7 709.3L573.8 766.6L507.6 766.6Z" fill="#fff" stroke="#0000ff" stroke-width="5.5" stroke-linejoin="bevel"/>
<path d="M622.55 694L655.65 751.3L589.45 751.3Z" fill="#fff" stroke="#0000ff" stroke-width="5.5" stroke-linejoin="bevel"/>
<path d="M704.4 676.5L737.5 733.8L671.3 733.8Z" fill="#fff" stroke="#0000ff" stroke-width="5.5" stroke-linejoin="bevel"/>
<path d="M786.25 658L819.35 715.3L753.15 715.3Z" fill="#fff" stroke="#0000ff" stroke-width="5.5" stroke-linejoin="bevel"/>
<path d="M868.1 638.5L901.2 695.8L835 695.8Z" fill="#fff" stroke="#0000ff" stroke-width="5.5" stroke-linejoin="bevel"/>
<path d="M949.95 613L983.05 670.3L916.85 670.3Z" fill="#fff" stroke="#0000ff" stroke-width="5.5" stroke-linejoin="bevel"/>
<path d="M1031.8 585.8L1064.9 643.1L998.7 643.1Z" fill="#fff" stroke="#0000ff" stroke-width="5.5" stroke-linejoin="bevel"/>
<path d="M1113.65 554.9L1146.75 612.2L1080.55 612.2Z" fill="#fff" stroke="#0000ff" stroke-width="5.5" stroke-linejoin="bevel"/>
<path d="M1195.5 521.4L1228.6 578.7L1162.4 578.7Z" fill="#fff" stroke="#0000ff" stroke-width="5.5" stroke-linejoin="bevel"/>
<path d="M1277.35 484.7L1310.45 542L1244.25 542Z" fill="#fff" stroke="#0000ff" stroke-width="5.5" stroke-linejoin="bevel"/>
<path d="M1359.2 447.6L1392.3 504.9L1326.1 504.9Z" fill="#fff" stroke="#0000ff" stroke-width="5.5" stroke-linejoin="bevel"/>
<path d="M1441.05 410.7L1474.15 468L1407.95 468Z" fill="#fff" stroke="#0000ff" stroke-width="5.5" stroke-linejoin="bevel"/>
<path d="M1522.9 372.1L1556 429.4L1489.8 429.4Z" fill="#fff" stroke="#0000ff" stroke-width="5.5" stroke-linejoin="bevel"/>
<path d="M1604.75 337.6L1637.85 394.9L1571.65 394.9Z" fill="#fff" stroke="#0000ff" stroke-width="5.5" stroke-linejoin="bevel"/>
<path d="M1686.6 303.8L1719.7 361.1L1653.5 361.1Z" fill="#fff" stroke="#0000ff" stroke-width="5.5" stroke-linejoin="bevel"/>
<path d="M1768.45 275.2L1801.55 332.5L1735.35 332.5Z" fill="#fff" stroke="#0000ff" stroke-width="5.5" stroke-linejoin="bevel"/>
<path d="M1850.3 248.7L1883.4 306L1817.2 306Z" fill="#fff" stroke="#0000ff" stroke-width="5.5" stroke-linejoin="bevel"/>
<path d="M1932.15 224.1L1965.25 281.4L1899.05 281.4Z" fill="#fff" stroke="#0000ff" stroke-width="5.5" stroke-linejoin="bevel"/>
<path d="M2014 201.8L2047.1 259.1L1980.9 259.1Z" fill="#fff" stroke="#0000ff" stroke-width="5.5" stroke-linejoin="bevel"/>
<path d="M2095.85 183L2128.95 240.3L2062.75 240.3Z" fill="#fff" stroke="#0000ff" stroke-width="5.5" stroke-linejoin="bevel"/>
<path d="M2177.7 166.1L2210.8 223.4L2144.6 223.4Z" fill="#fff" stroke="#0000ff" stroke-width="5.5" stroke-linejoin="bevel"/>
<path d="M2259.55 151.6L2292.65 208.9L2226.45 208.9Z" fill="#fff" stroke="#0000ff" stroke-width="5.5" stroke-linejoin="bevel"/>
<path d="M2341.4 140.2L2374.5 197.5L2308.3 197.5Z" fill="#fff" stroke="#0000ff" stroke-width="5.5" stroke-linejoin="bevel"/>
</g>
<g clip-path="url(#ca)">
<polyline points="377,831.3 458.85,817.9 540.7,801.6 622.55,784 704.4,762 786.25,737.8 868.1,712 949.95,681.8 1031.8,646 1113.65,607.7 1195.5,571 1277.35,528.6 1359.2,485.5 1441.05,445 1522.9,404.3 1604.75,365.8 1686.6,331.8 1768.45,300.8 1850.3,273 1932.15,249 2014,228.4 2095.85,209 2177.7,196 2259.55,178.5 2341.4,166.7" fill="none" stroke="#0000ff" stroke-width="12" stroke-linejoin="round"/>
<circle cx="377" cy="831.3" r="28.3" fill="#fff" stroke="#0000ff" stroke-width="5.5"/>
<circle cx="458.85" cy="817.9" r="28.3" fill="#fff" stroke="#0000ff" stroke-width="5.5"/>
<circle cx="540.7" cy="801.6" r="28.3" fill="#fff" stroke="#0000ff" stroke-width="5.5"/>
<circle cx="622.55" cy="784" r="28.3" fill="#fff" stroke="#0000ff" stroke-width="5.5"/>
<circle cx="704.4" cy="762" r="28.3" fill="#fff" stroke="#0000ff" stroke-width="5.5"/>
<circle cx="786.25" cy="737.8" r="28.3" fill="#fff" stroke="#0000ff" stroke-width="5.5"/>
<circle cx="868.1" cy="712" r="28.3" fill="#fff" stroke="#0000ff" stroke-width="5.5"/>
<circle cx="949.95" cy="681.8" r="28.3" fill="#fff" stroke="#0000ff" stroke-width="5.5"/>
<circle cx="1031.8" cy="646" r="28.3" fill="#fff" stroke="#0000ff" stroke-width="5.5"/>
<circle cx="1113.65" cy="607.7" r="28.3" fill="#fff" stroke="#0000ff" stroke-width="5.5"/>
<circle cx="1195.5" cy="571" r="28.3" fill="#fff" stroke="#0000ff" stroke-width="5.5"/>
<circle cx="1277.35" cy="528.6" r="28.3" fill="#fff" stroke="#0000ff" stroke-width="5.5"/>
<circle cx="1359.2" cy="485.5" r="28.3" fill="#fff" stroke="#0000ff" stroke-width="5.5"/>
<circle cx="1441.05" cy="445" r="28.3" fill="#fff" stroke="#0000ff" stroke-width="5.5"/>
<circle cx="1522.9" cy="404.3" r="28.3" fill="#fff" stroke="#0000ff" stroke-width="5.5"/>
<circle cx="1604.75" cy="365.8" r="28.3" fill="#fff" stroke="#0000ff" stroke-width="5.5"/>
<circle cx="1686.6" cy="331.8" r="28.3" fill="#fff" stroke="#0000ff" stroke-width="5.5"/>
<circle cx="1768.45" cy="300.8" r="28.3" fill="#fff" stroke="#0000ff" stroke-width="5.5"/>
<circle cx="1850.3" cy="273" r="28.3" fill="#fff" stroke="#0000ff" stroke-width="5.5"/>
<circle cx="1932.15" cy="249" r="28.3" fill="#fff" stroke="#0000ff" stroke-width="5.5"/>
<circle cx="2014" cy="228.4" r="28.3" fill="#fff" stroke="#0000ff" stroke-width="5.5"/>
<circle cx="2095.85" cy="209" r="28.3" fill="#fff" stroke="#0000ff" stroke-width="5.5"/>
<circle cx="2177.7" cy="196" r="28.3" fill="#fff" stroke="#0000ff" stroke-width="5.5"/>
<circle cx="2259.55" cy="178.5" r="28.3" fill="#fff" stroke="#0000ff" stroke-width="5.5"/>
<circle cx="2341.4" cy="166.7" r="28.3" fill="#fff" stroke="#0000ff" stroke-width="5.5"/>
</g>
<g clip-path="url(#cb)">
<polyline points="371,3289.3 441.2,3291.6 511.4,3288.6 581.6,3281.5 651.8,3269.7 722,3252.1 792.2,3228.8 862.4,3199 932.6,3165 1002.8,3122.9 1073,3074.7 1143.2,3018 1213.4,2952.3 1283.6,2873.5 1353.8,2778.5 1424,2662.3 1494.2,2531.5 1564.4,2420 1634.6,2322 1704.8,2244.5 1775,2182.6 1845.2,2136.4 1915.4,2098 1985.6,2066.7 2055.8,2041.8 2126,2018.8 2196.2,2004.5 2266.4,1993.3 2336.6,1983.8" fill="none" stroke="#000" stroke-width="12" stroke-linejoin="round"/>
<rect x="346.5" y="3264.8" width="49.0" height="49.0" fill="#fff" stroke="#000" stroke-width="5.5"/>
<rect x="416.7" y="3267.1" width="49.0" height="49.0" fill="#fff" stroke="#000" stroke-width="5.5"/>
<rect x="486.9" y="3264.1" width="49.0" height="49.0" fill="#fff" stroke="#000" stroke-width="5.5"/>
<rect x="557.1" y="3257" width="49.0" height="49.0" fill="#fff" stroke="#000" stroke-width="5.5"/>
<rect x="627.3" y="3245.2" width="49.0" height="49.0" fill="#fff" stroke="#000" stroke-width="5.5"/>
<rect x="697.5" y="3227.6" width="49.0" height="49.0" fill="#fff" stroke="#000" stroke-width="5.5"/>
<rect x="767.7" y="3204.3" width="49.0" height="49.0" fill="#fff" stroke="#000" stroke-width="5.5"/>
<rect x="837.9" y="3174.5" width="49.0" height="49.0" fill="#fff" stroke="#000" stroke-width="5.5"/>
<rect x="908.1" y="3140.5" width="49.0" height="49.0" fill="#fff" stroke="#000" stroke-width="5.5"/>
<rect x="978.3" y="3098.4" width="49.0" height="49.0" fill="#fff" stroke="#000" stroke-width="5.5"/>
<rect x="1048.5" y="3050.2" width="49.0" height="49.0" fill="#fff" stroke="#000" stroke-width="5.5"/>
<rect x="1118.7" y="2993.5" width="49.0" height="49.0" fill="#fff" stroke="#000" stroke-width="5.5"/>
<rect x="1188.9" y="2927.8" width="49.0" height="49.0" fill="#fff" stroke="#000" stroke-width="5.5"/>
<rect x="1259.1" y="2849" width="49.0" height="49.0" fill="#fff" stroke="#000" stroke-width="5.5"/>
<rect x="1329.3" y="2754" width="49.0" height="49.0" fill="#fff" stroke="#000" stroke-width="5.5"/>
<rect x="1399.5" y="2637.8" width="49.0" height="49.0" fill="#fff" stroke="#000" stroke-width="5.5"/>
<rect x="1469.7" y="2507" width="49.0" height="49.0" fill="#fff" stroke="#000" stroke-width="5.5"/>
<rect x="1539.9" y="2395.5" width="49.0" height="49.0" fill="#fff" stroke="#000" stroke-width="5.5"/>
<rect x="1610.1" y="2297.5" width="49.0" height="49.0" fill="#fff" stroke="#000" stroke-width="5.5"/>
<rect x="1680.3" y="2220" width="49.0" height="49.0" fill="#fff" stroke="#000" stroke-width="5.5"/>
<rect x="1750.5" y="2158.1" width="49.0" height="49.0" fill="#fff" stroke="#000" stroke-width="5.5"/>
<rect x="1820.7" y="2111.9" width="49.0" height="49.0" fill="#fff" stroke="#000" stroke-width="5.5"/>
<rect x="1890.9" y="2073.5" width="49.0" height="49.0" fill="#fff" stroke="#000" stroke-width="5.5"/>
<rect x="1961.1" y="2042.2" width="49.0" height="49.0" fill="#fff" stroke="#000" stroke-width="5.5"/>
<rect x="2031.3" y="2017.3" width="49.0" height="49.0" fill="#fff" stroke="#000" stroke-width="5.5"/>
<rect x="2101.5" y="1994.3" width="49.0" height="49.0" fill="#fff" stroke="#000" stroke-width="5.5"/>
<rect x="2171.7" y="1980" width="49.0" height="49.0" fill="#fff" stroke="#000" stroke-width="5.5"/>
<rect x="2241.9" y="1968.8" width="49.0" height="49.0" fill="#fff" stroke="#000" stroke-width="5.5"/>
<rect x="2312.1" y="1959.3" width="49.0" height="49.0" fill="#fff" stroke="#000" stroke-width="5.5"/>
</g>
<g clip-path="url(#cb)">
<polyline points="371,2825.3 441.2,2884.3 511.4,2931.6 581.6,2967 651.8,2993.7 722,3010.5 792.2,3018.1 862.4,3017.2 932.6,3006.5 1002.8,2986.6 1073,2959.8 1143.2,2921 1213.4,2868.2 1283.6,2807 1353.8,2733.1 1424,2638.4 1494.2,2524.2 1564.4,2416 1634.6,2320 1704.8,2244 1775,2183 1845.2,2135 1915.4,2098 1985.6,2068 2055.8,2042 2126,2019 2196.2,1997.7 2266.4,1979.4 2336.6,1961.8" fill="none" stroke="#000" stroke-width="12" stroke-linejoin="round"/>
<circle cx="371" cy="2825.3" r="28.3" fill="#fff" stroke="#000" stroke-width="5.5"/>
<circle cx="441.2" cy="2884.3" r="28.3" fill="#fff" stroke="#000" stroke-width="5.5"/>
<circle cx="511.4" cy="2931.6" r="28.3" fill="#fff" stroke="#000" stroke-width="5.5"/>
<circle cx="581.6" cy="2967" r="28.3" fill="#fff" stroke="#000" stroke-width="5.5"/>
<circle cx="651.8" cy="2993.7" r="28.3" fill="#fff" stroke="#000" stroke-width="5.5"/>
<circle cx="722" cy="3010.5" r="28.3" fill="#fff" stroke="#000" stroke-width="5.5"/>
<circle cx="792.2" cy="3018.1" r="28.3" fill="#fff" stroke="#000" stroke-width="5.5"/>
<circle cx="862.4" cy="3017.2" r="28.3" fill="#fff" stroke="#000" stroke-width="5.5"/>
<circle cx="932.6" cy="3006.5" r="28.3" fill="#fff" stroke="#000" stroke-width="5.5"/>
<circle cx="1002.8" cy="2986.6" r="28.3" fill="#fff" stroke="#000" stroke-width="5.5"/>
<circle cx="1073" cy="2959.8" r="28.3" fill="#fff" stroke="#000" stroke-width="5.5"/>
<circle cx="1143.2" cy="2921" r="28.3" fill="#fff" stroke="#000" stroke-width="5.5"/>
<circle cx="1213.4" cy="2868.2" r="28.3" fill="#fff" stroke="#000" stroke-width="5.5"/>
<circle cx="1283.6" cy="2807" r="28.3" fill="#fff" stroke="#000" stroke-width="5.5"/>
<circle cx="1353.8" cy="2733.1" r="28.3" fill="#fff" stroke="#000" stroke-width="5.5"/>
<circle cx="1424" cy="2638.4" r="28.3" fill="#fff" stroke="#000" stroke-width="5.5"/>
<circle cx="1494.2" cy="2524.2" r="28.3" fill="#fff" stroke="#000" stroke-width="5.5"/>
<circle cx="1564.4" cy="2416" r="28.3" fill="#fff" stroke="#000" stroke-width="5.5"/>
<circle cx="1634.6" cy="2320" r="28.3" fill="#fff" stroke="#000" stroke-width="5.5"/>
<circle cx="1704.8" cy="2244" r="28.3" fill="#fff" stroke="#000" stroke-width="5.5"/>
<circle cx="1775" cy="2183" r="28.3" fill="#fff" stroke="#000" stroke-width="5.5"/>
<circle cx="1845.2" cy="2135" r="28.3" fill="#fff" stroke="#000" stroke-width="5.5"/>
<circle cx="1915.4" cy="2098" r="28.3" fill="#fff" stroke="#000" stroke-width="5.5"/>
<circle cx="1985.6" cy="2068" r="28.3" fill="#fff" stroke="#000" stroke-width="5.5"/>
<circle cx="2055.8" cy="2042" r="28.3" fill="#fff" stroke="#000" stroke-width="5.5"/>
<circle cx="2126" cy="2019" r="28.3" fill="#fff" stroke="#000" stroke-width="5.5"/>
<circle cx="2196.2" cy="1997.7" r="28.3" fill="#fff" stroke="#000" stroke-width="5.5"/>
<circle cx="2266.4" cy="1979.4" r="28.3" fill="#fff" stroke="#000" stroke-width="5.5"/>
<circle cx="2336.6" cy="1961.8" r="28.3" fill="#fff" stroke="#000" stroke-width="5.5"/>
</g>
<g clip-path="url(#cb)">
<polyline points="371,2608.5 441.2,2696 511.4,2765 581.6,2823 651.8,2865.6 722,2899.5 792.2,2922.6 862.4,2935 932.6,2937.7 1002.8,2929 1073,2910.5 1143.2,2879.8 1213.4,2839 1283.6,2785.3 1353.8,2717.3 1424,2632.5 1494.2,2526.5 1564.4,2416.8 1634.6,2321.5 1704.8,2244.2 1775,2184 1845.2,2135.4 1915.4,2097.9 1985.6,2068.1 2055.8,2041.8 2126,2019.8 2196.2,1999.7 2266.4,1981.2 2336.6,1959.4" fill="none" stroke="#000" stroke-width="12" stroke-linejoin="round"/>
<path d="M371 2570.3L404.1 2627.6L337.9 2627.6Z" fill="#fff" stroke="#000" stroke-width="5.5" stroke-linejoin="bevel"/>
<path d="M441.2 2657.8L474.3 2715.1L408.1 2715.1Z" fill="#fff" stroke="#000" stroke-width="5.5" stroke-linejoin="bevel"/>
<path d="M511.4 2726.8L544.5 2784.1L478.3 2784.1Z" fill="#fff" stroke="#000" stroke-width="5.5" stroke-linejoin="bevel"/>
<path d="M581.6 2784.8L614.7 2842.1L548.5 2842.1Z" fill="#fff" stroke="#000" stroke-width="5.5" stroke-linejoin="bevel"/>
<path d="M651.8 2827.4L684.9 2884.7L618.7 2884.7Z" fill="#fff" stroke="#000" stroke-width="5.5" stroke-linejoin="bevel"/>
<path d="M722 2861.3L755.1 2918.6L688.9 2918.6Z" fill="#fff" stroke="#000" stroke-width="5.5" stroke-linejoin="bevel"/>
<path d="M792.2 2884.4L825.3 2941.7L759.1 2941.7Z" fill="#fff" stroke="#000" stroke-width="5.5" stroke-linejoin="bevel"/>
<path d="M862.4 2896.8L895.5 2954.1L829.3 2954.1Z" fill="#fff" stroke="#000" stroke-width="5.5" stroke-linejoin="bevel"/>
<path d="M932.6 2899.5L965.7 2956.8L899.5 2956.8Z" fill="#fff" stroke="#000" stroke-width="5.5" stroke-linejoin="bevel"/>
<path d="M1002.8 2890.8L1035.9 2948.1L969.7 2948.1Z" fill="#fff" stroke="#000" stroke-width="5.5" stroke-linejoin="bevel"/>
<path d="M1073 2872.3L1106.1 2929.6L1039.9 2929.6Z" fill="#fff" stroke="#000" stroke-width="5.5" stroke-linejoin="bevel"/>
<path d="M1143.2 2841.6L1176.3 2898.9L1110.1 2898.9Z" fill="#fff" stroke="#000" stroke-width="5.5" stroke-linejoin="bevel"/>
<path d="M1213.4 2800.8L1246.5 2858.1L1180.3 2858.1Z" fill="#fff" stroke="#000" stroke-width="5.5" stroke-linejoin="bevel"/>
<path d="M1283.6 2747.1L1316.7 2804.4L1250.5 2804.4Z" fill="#fff" stroke="#000" stroke-width="5.5" stroke-linejoin="bevel"/>
<path d="M1353.8 2679.1L1386.9 2736.4L1320.7 2736.4Z" fill="#fff" stroke="#000" stroke-width="5.5" stroke-linejoin="bevel"/>
<path d="M1424 2594.3L1457.1 2651.6L1390.9 2651.6Z" fill="#fff" stroke="#000" stroke-width="5.5" stroke-linejoin="bevel"/>
<path d="M1494.2 2488.3L1527.3 2545.6L1461.1 2545.6Z" fill="#fff" stroke="#000" stroke-width="5.5" stroke-linejoin="bevel"/>
<path d="M1564.4 2378.6L1597.5 2435.9L1531.3 2435.9Z" fill="#fff" stroke="#000" stroke-width="5.5" stroke-linejoin="bevel"/>
<path d="M1634.6 2283.3L1667.7 2340.6L1601.5 2340.6Z" fill="#fff" stroke="#000" stroke-width="5.5" stroke-linejoin="bevel"/>
<path d="M1704.8 2206L1737.9 2263.3L1671.7 2263.3Z" fill="#fff" stroke="#000" stroke-width="5.5" stroke-linejoin="bevel"/>
<path d="M1775 2145.8L1808.1 2203.1L1741.9 2203.1Z" fill="#fff" stroke="#000" stroke-width="5.5" stroke-linejoin="bevel"/>
<path d="M1845.2 2097.2L1878.3 2154.5L1812.1 2154.5Z" fill="#fff" stroke="#000" stroke-width="5.5" stroke-linejoin="bevel"/>
<path d="M1915.4 2059.7L1948.5 2117L1882.3 2117Z" fill="#fff" stroke="#000" stroke-width="5.5" stroke-linejoin="bevel"/>
<path d="M1985.6 2029.9L2018.7 2087.2L1952.5 2087.2Z" fill="#fff" stroke="#000" stroke-width="5.5" stroke-linejoin="bevel"/>
<path d="M2055.8 2003.6L2088.9 2060.9L2022.7 2060.9Z" fill="#fff" stroke="#000" stroke-width="5.5" stroke-linejoin="bevel"/>
<path d="M2126 1981.6L2159.1 2038.9L2092.9 2038.9Z" fill="#fff" stroke="#000" stroke-width="5.5" stroke-linejoin="bevel"/>
<path d="M2196.2 1961.5L2229.3 2018.8L2163.1 2018.8Z" fill="#fff" stroke="#000" stroke-width="5.5" stroke-linejoin="bevel"/>
<path d="M2266.4 1943L2299.5 2000.3L2233.3 2000.3Z" fill="#fff" stroke="#000" stroke-width="5.5" stroke-linejoin="bevel"/>
<path d="M2336.6 1921.2L2369.7 1978.5L2303.5 1978.5Z" fill="#fff" stroke="#000" stroke-width="5.5" stroke-linejoin="bevel"/>
</g>
<g clip-path="url(#cb)">
<polyline points="371,2764.7 441.2,2764.7 511.4,2762 581.6,2755.9 651.8,2746.7 722,2734.4 792.2,2719.6 862.4,2700.9 932.6,2678.3 1002.8,2651.7 1073,2619.8 1143.2,2584.5 1213.4,2541.5 1283.6,2493.3 1353.8,2437 1424,2376 1494.2,2307.5 1564.4,2240 1634.6,2173.7 1704.8,2114 1775,2065.3 1845.2,2023.8 1915.4,1990.3 1985.6,1962.2 2055.8,1939.9 2126,1921.2 2196.2,1908.8 2266.4,1904 2336.6,1898.3" fill="none" stroke="#0000ff" stroke-width="12" stroke-linejoin="round"/>
<rect x="346.5" y="2740.2" width="49.0" height="49.0" fill="#fff" stroke="#0000ff" stroke-width="5.5"/>
<rect x="416.7" y="2740.2" width="49.0" height="49.0" fill="#fff" stroke="#0000ff" stroke-width="5.5"/>
<rect x="486.9" y="2737.5" width="49.0" height="49.0" fill="#fff" stroke="#0000ff" stroke-width="5.5"/>
<rect x="557.1" y="2731.4" width="49.0" height="49.0" fill="#fff" stroke="#0000ff" stroke-width="5.5"/>
<rect x="627.3" y="2722.2" width="49.0" height="49.0" fill="#fff" stroke="#0000ff" stroke-width="5.5"/>
<rect x="697.5" y="2709.9" width="49.0" height="49.0" fill="#fff" stroke="#0000ff" stroke-width="5.5"/>
<rect x="767.7" y="2695.1" width="49.0" height="49.0" fill="#fff" stroke="#0000ff" stroke-width="5.5"/>
<rect x="837.9" y="2676.4" width="49.0" height="49.0" fill="#fff" stroke="#0000ff" stroke-width="5.5"/>
<rect x="908.1" y="2653.8" width="49.0" height="49.0" fill="#fff" stroke="#0000ff" stroke-width="5.5"/>
<rect x="978.3" y="2627.2" width="49.0" height="49.0" fill="#fff" stroke="#0000ff" stroke-width="5.5"/>
<rect x="1048.5" y="2595.3" width="49.0" height="49.0" fill="#fff" stroke="#0000ff" stroke-width="5.5"/>
<rect x="1118.7" y="2560" width="49.0" height="49.0" fill="#fff" stroke="#0000ff" stroke-width="5.5"/>
<rect x="1188.9" y="2517" width="49.0" height="49.0" fill="#fff" stroke="#0000ff" stroke-width="5.5"/>
<rect x="1259.1" y="2468.8" width="49.0" height="49.0" fill="#fff" stroke="#0000ff" stroke-width="5.5"/>
<rect x="1329.3" y="2412.5" width="49.0" height="49.0" fill="#fff" stroke="#0000ff" stroke-width="5.5"/>
<rect x="1399.5" y="2351.5" width="49.0" height="49.0" fill="#fff" stroke="#0000ff" stroke-width="5.5"/>
<rect x="1469.7" y="2283" width="49.0" height="49.0" fill="#fff" stroke="#0000ff" stroke-width="5.5"/>
<rect x="1539.9" y="2215.5" width="49.0" height="49.0" fill="#fff" stroke="#0000ff" stroke-width="5.5"/>
<rect x="1610.1" y="2149.2" width="49.0" height="49.0" fill="#fff" stroke="#0000ff" stroke-width="5.5"/>
<rect x="1680.3" y="2089.5" width="49.0" height="49.0" fill="#fff" stroke="#0000ff" stroke-width="5.5"/>
<rect x="1750.5" y="2040.8" width="49.0" height="49.0" fill="#fff" stroke="#0000ff" stroke-width="5.5"/>
<rect x="1820.7" y="1999.3" width="49.0" height="49.0" fill="#fff" stroke="#0000ff" stroke-width="5.5"/>
<rect x="1890.9" y="1965.8" width="49.0" height="49.0" fill="#fff" stroke="#0000ff" stroke-width="5.5"/>
<rect x="1961.1" y="1937.7" width="49.0" height="49.0" fill="#fff" stroke="#0000ff" stroke-width="5.5"/>
<rect x="2031.3" y="1915.4" width="49.0" height="49.0" fill="#fff" stroke="#0000ff" stroke-width="5.5"/>
<rect x="2101.5" y="1896.7" width="49.0" height="49.0" fill="#fff" stroke="#0000ff" stroke-width="5.5"/>
<rect x="2171.7" y="1884.3" width="49.0" height="49.0" fill="#fff" stroke="#0000ff" stroke-width="5.5"/>
<rect x="2241.9" y="1879.5" width="49.0" height="49.0" fill="#fff" stroke="#0000ff" stroke-width="5.5"/>
<rect x="2312.1" y="1873.8" width="49.0" height="49.0" fill="#fff" stroke="#0000ff" stroke-width="5.5"/>
</g>
<g clip-path="url(#cb)">
<polyline points="371,2464.6 441.2,2492.5 511.4,2514 581.6,2529.8 651.8,2541.5 722,2548.3 792.2,2550.7 862.4,2546.1 932.6,2538.8 1002.8,2528.5 1073,2510.7 1143.2,2489.8 1213.4,2465.3 1283.6,2433 1353.8,2395.8 1424,2349.2 1494.2,2297.5 1564.4,2240 1634.6,2185 1704.8,2128 1775,2078 1845.2,2035 1915.4,2000 1985.6,1970 2055.8,1944 2126,1919.6 2196.2,1899.6 2266.4,1885.3 2336.6,1870" fill="none" stroke="#0000ff" stroke-width="12" stroke-linejoin="round"/>
<circle cx="371" cy="2464.6" r="28.3" fill="#fff" stroke="#0000ff" stroke-width="5.5"/>
<circle cx="441.2" cy="2492.5" r="28.3" fill="#fff" stroke="#0000ff" stroke-width="5.5"/>
<circle cx="511.4" cy="2514" r="28.3" fill="#fff" stroke="#0000ff" stroke-width="5.5"/>
<circle cx="581.6" cy="2529.8" r="28.3" fill="#fff" stroke="#0000ff" stroke-width="5.5"/>
<circle cx="651.8" cy="2541.5" r="28.3" fill="#fff" stroke="#0000ff" stroke-width="5.5"/>
<circle cx="722" cy="2548.3" r="28.3" fill="#fff" stroke="#0000ff" stroke-width="5.5"/>
<circle cx="792.2" cy="2550.7" r="28.3" fill="#fff" stroke="#0000ff" stroke-width="5.5"/>
<circle cx="862.4" cy="2546.1" r="28.3" fill="#fff" stroke="#0000ff" stroke-width="5.5"/>
<circle cx="932.6" cy="2538.8" r="28.3" fill="#fff" stroke="#0000ff" stroke-width="5.5"/>
<circle cx="1002.8" cy="2528.5" r="28.3" fill="#fff" stroke="#0000ff" stroke-width="5.5"/>
<circle cx="1073" cy="2510.7" r="28.3" fill="#fff" stroke="#0000ff" stroke-width="5.5"/>
<circle cx="1143.2" cy="2489.8" r="28.3" fill="#fff" stroke="#0000ff" stroke-width="5.5"/>
<circle cx="1213.4" cy="2465.3" r="28.3" fill="#fff" stroke="#0000ff" stroke-width="5.5"/>
<circle cx="1283.6" cy="2433" r="28.3" fill="#fff" stroke="#0000ff" stroke-width="5.5"/>
<circle cx="1353.8" cy="2395.8" r="28.3" fill="#fff" stroke="#0000ff" stroke-width="5.5"/>
<circle cx="1424" cy="2349.2" r="28.3" fill="#fff" stroke="#0000ff" stroke-width="5.5"/>
<circle cx="1494.2" cy="2297.5" r="28.3" fill="#fff" stroke="#0000ff" stroke-width="5.5"/>
<circle cx="1564.4" cy="2240" r="28.3" fill="#fff" stroke="#0000ff" stroke-width="5.5"/>
<circle cx="1634.6" cy="2185" r="28.3" fill="#fff" stroke="#0000ff" stroke-width="5.5"/>
<circle cx="1704.8" cy="2128" r="28.3" fill="#fff" stroke="#0000ff" stroke-width="5.5"/>
<circle cx="1775" cy="2078" r="28.3" fill="#fff" stroke="#0000ff" stroke-width="5.5"/>
<circle cx="1845.2" cy="2035" r="28.3" fill="#fff" stroke="#0000ff" stroke-width="5.5"/>
<circle cx="1915.4" cy="2000" r="28.3" fill="#fff" stroke="#0000ff" stroke-width="5.5"/>
<circle cx="1985.6" cy="1970" r="28.3" fill="#fff" stroke="#0000ff" stroke-width="5.5"/>
<circle cx="2055.8" cy="1944" r="28.3" fill="#fff" stroke="#0000ff" stroke-width="5.5"/>
<circle cx="2126" cy="1919.6" r="28.3" fill="#fff" stroke="#0000ff" stroke-width="5.5"/>
<circle cx="2196.2" cy="1899.6" r="28.3" fill="#fff" stroke="#0000ff" stroke-width="5.5"/>
<circle cx="2266.4" cy="1885.3" r="28.3" fill="#fff" stroke="#0000ff" stroke-width="5.5"/>
<circle cx="2336.6" cy="1870" r="28.3" fill="#fff" stroke="#0000ff" stroke-width="5.5"/>
</g>
<g clip-path="url(#cb)">
<polyline points="371,2334.1 441.2,2374 511.4,2406 581.6,2431.6 651.8,2452 722,2467.7 792.2,2478 862.4,2480.8 932.6,2481 1002.8,2479.5 1073,2469.6 1143.2,2454.6 1213.4,2434.8 1283.6,2410 1353.8,2379.4 1424,2341.9 1494.2,2300.3 1564.4,2249.5 1634.6,2190.6 1704.8,2133 1775,2082 1845.2,2036.5 1915.4,2000.3 1985.6,1970.5 2055.8,1944 2126,1922.4 2196.2,1903.5 2266.4,1881.9 2336.6,1868.4" fill="none" stroke="#0000ff" stroke-width="12" stroke-linejoin="round"/>
<path d="M371 2295.9L404.1 2353.2L337.9 2353.2Z" fill="#fff" stroke="#0000ff" stroke-width="5.5" stroke-linejoin="bevel"/>
<path d="M441.2 2335.8L474.3 2393.1L408.1 2393.1Z" fill="#fff" stroke="#0000ff" stroke-width="5.5" stroke-linejoin="bevel"/>
<path d="M511.4 2367.8L544.5 2425.1L478.3 2425.1Z" fill="#fff" stroke="#0000ff" stroke-width="5.5" stroke-linejoin="bevel"/>
<path d="M581.6 2393.4L614.7 2450.7L548.5 2450.7Z" fill="#fff" stroke="#0000ff" stroke-width="5.5" stroke-linejoin="bevel"/>
<path d="M651.8 2413.8L684.9 2471.1L618.7 2471.1Z" fill="#fff" stroke="#0000ff" stroke-width="5.5" stroke-linejoin="bevel"/>
<path d="M722 2429.5L755.1 2486.8L688.9 2486.8Z" fill="#fff" stroke="#0000ff" stroke-width="5.5" stroke-linejoin="bevel"/>
<path d="M792.2 2439.8L825.3 2497.1L759.1 2497.1Z" fill="#fff" stroke="#0000ff" stroke-width="5.5" stroke-linejoin="bevel"/>
<path d="M862.4 2442.6L895.5 2499.9L829.3 2499.9Z" fill="#fff" stroke="#0000ff" stroke-width="5.5" stroke-linejoin="bevel"/>
<path d="M932.6 2442.8L965.7 2500.1L899.5 2500.1Z" fill="#fff" stroke="#0000ff" stroke-width="5.5" stroke-linejoin="bevel"/>
<path d="M1002.8 2441.3L1035.9 2498.6L969.7 2498.6Z" fill="#fff" stroke="#0000ff" stroke-width="5.5" stroke-linejoin="bevel"/>
<path d="M1073 2431.4L1106.1 2488.7L1039.9 2488.7Z" fill="#fff" stroke="#0000ff" stroke-width="5.5" stroke-linejoin="bevel"/>
<path d="M1143.2 2416.4L1176.3 2473.7L1110.1 2473.7Z" fill="#fff" stroke="#0000ff" stroke-width="5.5" stroke-linejoin="bevel"/>
<path d="M1213.4 2396.6L1246.5 2453.9L1180.3 2453.9Z" fill="#fff" stroke="#0000ff" stroke-width="5.5" stroke-linejoin="bevel"/>
<path d="M1283.6 2371.8L1316.7 2429.1L1250.5 2429.1Z" fill="#fff" stroke="#0000ff" stroke-width="5.5" stroke-linejoin="bevel"/>
<path d="M1353.8 2341.2L1386.9 2398.5L1320.7 2398.5Z" fill="#fff" stroke="#0000ff" stroke-width="5.5" stroke-linejoin="bevel"/>
<path d="M1424 2303.7L1457.1 2361L1390.9 2361Z" fill="#fff" stroke="#0000ff" stroke-width="5.5" stroke-linejoin="bevel"/>
<path d="M1494.2 2262.1L1527.3 2319.4L1461.1 2319.4Z" fill="#fff" stroke="#0000ff" stroke-width="5.5" stroke-linejoin="bevel"/>
<path d="M1564.4 2211.3L1597.5 2268.6L1531.3 2268.6Z" fill="#fff" stroke="#0000ff" stroke-width="5.5" stroke-linejoin="bevel"/>
<path d="M1634.6 2152.4L1667.7 2209.7L1601.5 2209.7Z" fill="#fff" stroke="#0000ff" stroke-width="5.5" stroke-linejoin="bevel"/>
<path d="M1704.8 2094.8L1737.9 2152.1L1671.7 2152.1Z" fill="#fff" stroke="#0000ff" stroke-width="5.5" stroke-linejoin="bevel"/>
<path d="M1775 2043.8L1808.1 2101.1L1741.9 2101.1Z" fill="#fff" stroke="#0000ff" stroke-width="5.5" stroke-linejoin="bevel"/>
<path d="M1845.2 1998.3L1878.3 2055.6L1812.1 2055.6Z" fill="#fff" stroke="#0000ff" stroke-width="5.5" stroke-linejoin="bevel"/>
<path d="M1915.4 1962.1L1948.5 2019.4L1882.3 2019.4Z" fill="#fff" stroke="#0000ff" stroke-width="5.5" stroke-linejoin="bevel"/>
<path d="M1985.6 1932.3L2018.7 1989.6L1952.5 1989.6Z" fill="#fff" stroke="#0000ff" stroke-width="5.5" stroke-linejoin="bevel"/>
<path d="M2055.8 1905.8L2088.9 1963.1L2022.7 1963.1Z" fill="#fff" stroke="#0000ff" stroke-width="5.5" stroke-linejoin="bevel"/>
<path d="M2126 1884.2L2159.1 1941.5L2092.9 1941.5Z" fill="#fff" stroke="#0000ff" stroke-width="5.5" stroke-linejoin="bevel"/>
<path d="M2196.2 1865.3L2229.3 1922.6L2163.1 1922.6Z" fill="#fff" stroke="#0000ff" stroke-width="5.5" stroke-linejoin="bevel"/>
<path d="M2266.4 1843.7L2299.5 1901L2233.3 1901Z" fill="#fff" stroke="#0000ff" stroke-width="5.5" stroke-linejoin="bevel"/>
<path d="M2336.6 1830.2L2369.7 1887.5L2303.5 1887.5Z" fill="#fff" stroke="#0000ff" stroke-width="5.5" stroke-linejoin="bevel"/>
</g>
<ellipse cx="1539.5" cy="370.6" rx="29.5" ry="97.3" fill="none" stroke="#0000ff" stroke-width="4.2"/>
<line x1="1540.3" y1="314.4" x2="1441" y2="314.4" stroke="#0000ff" stroke-width="5"/>
<path d="M1407 314.4L1447 303.7L1441 314.4L1447 325.1Z" fill="#0000ff" stroke="#0000ff" stroke-width="1.5" stroke-linejoin="round"/>
<ellipse cx="1186.7" cy="766.2" rx="29.8" ry="111.4" fill="none" stroke="#000" stroke-width="4.2"/>
<line x1="1190.6" y1="819" x2="1282.8" y2="819" stroke="#000" stroke-width="5"/>
<path d="M1316.8 819L1276.8 829.7L1282.8 819L1276.8 808.3Z" fill="#000" stroke="#000" stroke-width="1.5" stroke-linejoin="round"/>
<line x1="577.5" y1="988" x2="577.5" y2="630" stroke="#0000ff" stroke-width="5"/>
<path d="M577.5 596L588.2 636L577.5 630L566.8 636Z" fill="#0000ff" stroke="#0000ff" stroke-width="1.5" stroke-linejoin="round"/>
<line x1="748.5" y1="1233.4" x2="748.5" y2="939.5" stroke="#000" stroke-width="5"/>
<path d="M748.5 905.5L759.2 945.5L748.5 939.5L737.8 945.5Z" fill="#000" stroke="#000" stroke-width="1.5" stroke-linejoin="round"/>
<ellipse cx="1626.5" cy="2171.4" rx="29.2" ry="97.1" fill="none" stroke="#0000ff" stroke-width="4.2"/>
<line x1="1628" y1="2113" x2="1528" y2="2113" stroke="#0000ff" stroke-width="5"/>
<path d="M1494 2113L1534 2102.3L1528 2113L1534 2123.7Z" fill="#0000ff" stroke="#0000ff" stroke-width="1.5" stroke-linejoin="round"/>
<ellipse cx="1499.7" cy="2527.7" rx="29.3" ry="111.6" fill="none" stroke="#000" stroke-width="4.2"/>
<line x1="1503.6" y1="2580.1" x2="1596.5" y2="2580.1" stroke="#000" stroke-width="5"/>
<path d="M1630.5 2580.1L1590.5 2590.8L1596.5 2580.1L1590.5 2569.4Z" fill="#000" stroke="#000" stroke-width="1.5" stroke-linejoin="round"/>
<line x1="618.9" y1="2804.5" x2="618.9" y2="2400.8" stroke="#0000ff" stroke-width="5"/>
<path d="M618.9 2366.8L629.6 2406.8L618.9 2400.8L608.2 2406.8Z" fill="#0000ff" stroke="#0000ff" stroke-width="1.5" stroke-linejoin="round"/>
<line x1="1037.6" y1="3180.6" x2="1037.6" y2="2885.3" stroke="#000" stroke-width="5"/>
<path d="M1037.6 2851.3L1048.3 2891.3L1037.6 2885.3L1026.9 2891.3Z" fill="#000" stroke="#000" stroke-width="1.5" stroke-linejoin="round"/>
<text transform="translate(0 69) scale(1 1)" x="304.38" y="0" font-size="46" font-weight="bold" fill="#000" stroke="#000" stroke-width="0.9" xml:space="preserve">-5</text>
<text transform="translate(0 107.3) scale(1 1.04)" x="219.83" y="0" font-size="75" font-weight="bold" fill="#000" stroke="#000" stroke-width="0.9" xml:space="preserve">10</text>
<rect x="222.35" y="97.54" width="14.53" height="11.86" fill="#fff"/>
<rect x="248.07" y="97.54" width="13.58" height="11.86" fill="#fff"/>
<text transform="translate(0 249.62) scale(1 1)" x="304.76" y="0" font-size="46" font-weight="bold" fill="#000" stroke="#000" stroke-width="0.9" xml:space="preserve">-6</text>
<text transform="translate(0 287.93) scale(1 1.04)" x="220.21" y="0" font-size="75" font-weight="bold" fill="#000" stroke="#000" stroke-width="0.9" xml:space="preserve">10</text>
<rect x="222.74" y="278.17" width="14.53" height="11.86" fill="#fff"/>
<rect x="248.46" y="278.17" width="13.58" height="11.86" fill="#fff"/>
<text transform="translate(0 430.25) scale(1 1)" x="305.12" y="0" font-size="46" font-weight="bold" fill="#000" stroke="#000" stroke-width="0.9" xml:space="preserve">-7</text>
<text transform="translate(0 468.55) scale(1 1.04)" x="220.57" y="0" font-size="75" font-weight="bold" fill="#000" stroke="#000" stroke-width="0.9" xml:space="preserve">10</text>
<rect x="223.09" y="458.79" width="14.53" height="11.86" fill="#fff"/>
<rect x="248.82" y="458.79" width="13.58" height="11.86" fill="#fff"/>
<text transform="translate(0 610.88) scale(1 1)" x="304.51" y="0" font-size="46" font-weight="bold" fill="#000" stroke="#000" stroke-width="0.9" xml:space="preserve">-8</text>
<text transform="translate(0 649.17) scale(1 1.04)" x="219.96" y="0" font-size="75" font-weight="bold" fill="#000" stroke="#000" stroke-width="0.9" xml:space="preserve">10</text>
<rect x="222.49" y="639.42" width="14.53" height="11.86" fill="#fff"/>
<rect x="248.21" y="639.42" width="13.58" height="11.86" fill="#fff"/>
<text transform="translate(0 791.5) scale(1 1)" x="304.81" y="0" font-size="46" font-weight="bold" fill="#000" stroke="#000" stroke-width="0.9" xml:space="preserve">-9</text>
<text transform="translate(0 829.8) scale(1 1.04)" x="220.26" y="0" font-size="75" font-weight="bold" fill="#000" stroke="#000" stroke-width="0.9" xml:space="preserve">10</text>
<rect x="222.78" y="820.04" width="14.53" height="11.86" fill="#fff"/>
<rect x="248.5" y="820.04" width="13.58" height="11.86" fill="#fff"/>
<text transform="translate(0 972.12) scale(1 1)" x="279.4" y="0" font-size="46" font-weight="bold" fill="#000" stroke="#000" stroke-width="0.9" xml:space="preserve">-10</text>
<rect x="295.42" y="965.63" width="9.59" height="8.59" fill="#fff"/>
<rect x="312.22" y="965.63" width="9" height="8.59" fill="#fff"/>
<text transform="translate(0 1010.42) scale(1 1.04)" x="194.85" y="0" font-size="75" font-weight="bold" fill="#000" stroke="#000" stroke-width="0.9" xml:space="preserve">10</text>
<rect x="197.38" y="1000.67" width="14.53" height="11.86" fill="#fff"/>
<rect x="223.1" y="1000.67" width="13.58" height="11.86" fill="#fff"/>
<text transform="translate(0 1152.75) scale(1 1)" x="278.8" y="0" font-size="46" font-weight="bold" fill="#000" stroke="#000" stroke-width="0.9" xml:space="preserve">-11</text>
<rect x="294.81" y="1146.26" width="9.59" height="8.59" fill="#fff"/>
<rect x="311.61" y="1146.26" width="9" height="8.59" fill="#fff"/>
<rect x="320.39" y="1146.26" width="9.59" height="8.59" fill="#fff"/>
<rect x="337.2" y="1146.26" width="9" height="8.59" fill="#fff"/>
<text transform="translate(0 1191.05) scale(1 1.04)" x="194.25" y="0" font-size="75" font-weight="bold" fill="#000" stroke="#000" stroke-width="0.9" xml:space="preserve">10</text>
<rect x="196.77" y="1181.29" width="14.53" height="11.86" fill="#fff"/>
<rect x="222.49" y="1181.29" width="13.58" height="11.86" fill="#fff"/>
<text transform="translate(0 1333.38) scale(1 1)" x="279.36" y="0" font-size="46" font-weight="bold" fill="#000" stroke="#000" stroke-width="0.9" xml:space="preserve">-12</text>
<rect x="295.37" y="1326.88" width="9.59" height="8.59" fill="#fff"/>
<rect x="312.17" y="1326.88" width="9" height="8.59" fill="#fff"/>
<text transform="translate(0 1371.67) scale(1 1.04)" x="194.81" y="0" font-size="75" font-weight="bold" fill="#000" stroke="#000" stroke-width="0.9" xml:space="preserve">10</text>
<rect x="197.33" y="1361.92" width="14.53" height="11.86" fill="#fff"/>
<rect x="223.05" y="1361.92" width="13.58" height="11.86" fill="#fff"/>
<text transform="translate(0 1514) scale(1 1)" x="279.18" y="0" font-size="46" font-weight="bold" fill="#000" stroke="#000" stroke-width="0.9" xml:space="preserve">-13</text>
<rect x="295.19" y="1507.51" width="9.59" height="8.59" fill="#fff"/>
<rect x="311.99" y="1507.51" width="9" height="8.59" fill="#fff"/>
<text transform="translate(0 1552.3) scale(1 1.04)" x="194.63" y="0" font-size="75" font-weight="bold" fill="#000" stroke="#000" stroke-width="0.9" xml:space="preserve">10</text>
<rect x="197.15" y="1542.54" width="14.53" height="11.86" fill="#fff"/>
<rect x="222.87" y="1542.54" width="13.58" height="11.86" fill="#fff"/>
<text transform="translate(0 1617.3) scale(1 1.04)" x="323.88" y="0" font-size="76.5" font-weight="bold" fill="#000" stroke="#000" stroke-width="0.9" xml:space="preserve">0.0</text>
<text transform="translate(0 1617.3) scale(1 1.04)" x="650.8" y="0" font-size="76.5" font-weight="bold" fill="#000" stroke="#000" stroke-width="0.9" xml:space="preserve">0.1</text>
<rect x="717.21" y="1607.38" width="14.79" height="12.02" fill="#fff"/>
<rect x="743.4" y="1607.38" width="13.82" height="12.02" fill="#fff"/>
<text transform="translate(0 1617.3) scale(1 1.04)" x="978.68" y="0" font-size="76.5" font-weight="bold" fill="#000" stroke="#000" stroke-width="0.9" xml:space="preserve">0.2</text>
<text transform="translate(0 1617.3) scale(1 1.04)" x="1305.95" y="0" font-size="76.5" font-weight="bold" fill="#000" stroke="#000" stroke-width="0.9" xml:space="preserve">0.3</text>
<text transform="translate(0 1617.3) scale(1 1.04)" x="1632.19" y="0" font-size="76.5" font-weight="bold" fill="#000" stroke="#000" stroke-width="0.9" xml:space="preserve">0.4</text>
<text transform="translate(0 1617.3) scale(1 1.04)" x="1960.46" y="0" font-size="76.5" font-weight="bold" fill="#000" stroke="#000" stroke-width="0.9" xml:space="preserve">0.5</text>
<text transform="translate(0 1617.3) scale(1 1.04)" x="2288.2" y="0" font-size="76.5" font-weight="bold" fill="#000" stroke="#000" stroke-width="0.9" xml:space="preserve">0.6</text>
<text transform="translate(0 1972.38) scale(1 1)" x="298.76" y="0" font-size="46" font-weight="bold" fill="#000" stroke="#000" stroke-width="0.9" xml:space="preserve">-6</text>
<text transform="translate(0 2010.68) scale(1 1.04)" x="214.21" y="0" font-size="75" font-weight="bold" fill="#000" stroke="#000" stroke-width="0.9" xml:space="preserve">10</text>
<rect x="216.74" y="2000.92" width="14.53" height="11.86" fill="#fff"/>
<rect x="242.46" y="2000.92" width="13.58" height="11.86" fill="#fff"/>
<text transform="translate(0 2236.2) scale(1 1)" x="299.12" y="0" font-size="46" font-weight="bold" fill="#000" stroke="#000" stroke-width="0.9" xml:space="preserve">-7</text>
<text transform="translate(0 2274.5) scale(1 1.04)" x="214.57" y="0" font-size="75" font-weight="bold" fill="#000" stroke="#000" stroke-width="0.9" xml:space="preserve">10</text>
<rect x="217.09" y="2264.74" width="14.53" height="11.86" fill="#fff"/>
<rect x="242.82" y="2264.74" width="13.58" height="11.86" fill="#fff"/>
<text transform="translate(0 2500.03) scale(1 1)" x="298.51" y="0" font-size="46" font-weight="bold" fill="#000" stroke="#000" stroke-width="0.9" xml:space="preserve">-8</text>
<text transform="translate(0 2538.33) scale(1 1.04)" x="213.96" y="0" font-size="75" font-weight="bold" fill="#000" stroke="#000" stroke-width="0.9" xml:space="preserve">10</text>
<rect x="216.49" y="2528.57" width="14.53" height="11.86" fill="#fff"/>
<rect x="242.21" y="2528.57" width="13.58" height="11.86" fill="#fff"/>
<text transform="translate(0 2763.85) scale(1 1)" x="298.81" y="0" font-size="46" font-weight="bold" fill="#000" stroke="#000" stroke-width="0.9" xml:space="preserve">-9</text>
<text transform="translate(0 2802.15) scale(1 1.04)" x="214.26" y="0" font-size="75" font-weight="bold" fill="#000" stroke="#000" stroke-width="0.9" xml:space="preserve">10</text>
<rect x="216.78" y="2792.39" width="14.53" height="11.86" fill="#fff"/>
<rect x="242.5" y="2792.39" width="13.58" height="11.86" fill="#fff"/>
<text transform="translate(0 3027.68) scale(1 1)" x="273.4" y="0" font-size="46" font-weight="bold" fill="#000" stroke="#000" stroke-width="0.9" xml:space="preserve">-10</text>
<rect x="289.42" y="3021.18" width="9.59" height="8.59" fill="#fff"/>
<rect x="306.22" y="3021.18" width="9" height="8.59" fill="#fff"/>
<text transform="translate(0 3065.98) scale(1 1.04)" x="188.85" y="0" font-size="75" font-weight="bold" fill="#000" stroke="#000" stroke-width="0.9" xml:space="preserve">10</text>
<rect x="191.38" y="3056.22" width="14.53" height="11.86" fill="#fff"/>
<rect x="217.1" y="3056.22" width="13.58" height="11.86" fill="#fff"/>
<text transform="translate(0 3291.5) scale(1 1)" x="272.8" y="0" font-size="46" font-weight="bold" fill="#000" stroke="#000" stroke-width="0.9" xml:space="preserve">-11</text>
<rect x="288.81" y="3285.01" width="9.59" height="8.59" fill="#fff"/>
<rect x="305.61" y="3285.01" width="9" height="8.59" fill="#fff"/>
<rect x="314.39" y="3285.01" width="9.59" height="8.59" fill="#fff"/>
<rect x="331.2" y="3285.01" width="9" height="8.59" fill="#fff"/>
<text transform="translate(0 3329.8) scale(1 1.04)" x="188.25" y="0" font-size="75" font-weight="bold" fill="#000" stroke="#000" stroke-width="0.9" xml:space="preserve">10</text>
<rect x="190.77" y="3320.04" width="14.53" height="11.86" fill="#fff"/>
<rect x="216.49" y="3320.04" width="13.58" height="11.86" fill="#fff"/>
<text transform="translate(0 3395.3) scale(1 1.04)" x="317.88" y="0" font-size="76.5" font-weight="bold" fill="#000" stroke="#000" stroke-width="0.9" xml:space="preserve">0.0</text>
<text transform="translate(0 3395.3) scale(1 1.04)" x="598.16" y="0" font-size="76.5" font-weight="bold" fill="#000" stroke="#000" stroke-width="0.9" xml:space="preserve">0.1</text>
<rect x="664.58" y="3385.38" width="14.79" height="12.02" fill="#fff"/>
<rect x="690.77" y="3385.38" width="13.82" height="12.02" fill="#fff"/>
<text transform="translate(0 3395.3) scale(1 1.04)" x="879.42" y="0" font-size="76.5" font-weight="bold" fill="#000" stroke="#000" stroke-width="0.9" xml:space="preserve">0.2</text>
<text transform="translate(0 3395.3) scale(1 1.04)" x="1160.05" y="0" font-size="76.5" font-weight="bold" fill="#000" stroke="#000" stroke-width="0.9" xml:space="preserve">0.3</text>
<text transform="translate(0 3395.3) scale(1 1.04)" x="1439.66" y="0" font-size="76.5" font-weight="bold" fill="#000" stroke="#000" stroke-width="0.9" xml:space="preserve">0.4</text>
<text transform="translate(0 3395.3) scale(1 1.04)" x="1721.31" y="0" font-size="76.5" font-weight="bold" fill="#000" stroke="#000" stroke-width="0.9" xml:space="preserve">0.5</text>
<text transform="translate(0 3395.3) scale(1 1.04)" x="2002.41" y="0" font-size="76.5" font-weight="bold" fill="#000" stroke="#000" stroke-width="0.9" xml:space="preserve">0.6</text>
<text transform="translate(0 3395.3) scale(1 1.04)" x="2283.5" y="0" font-size="76.5" font-weight="bold" fill="#000" stroke="#000" stroke-width="0.9" xml:space="preserve">0.7</text>
<text transform="translate(0 197) scale(1 1)" x="415.77" y="0" font-size="105" font-weight="bold" fill="#000" stroke="#000" stroke-width="0.9" xml:space="preserve">(a)</text>
<text transform="translate(0 1974) scale(1 1)" x="409.77" y="0" font-size="105" font-weight="bold" fill="#000" stroke="#000" stroke-width="0.9" xml:space="preserve">(b)</text>
<text transform="translate(0 1767) scale(1 1.04)" x="1205.35" y="0" font-size="95.7" font-weight="bold" fill="#000" stroke="#000" stroke-width="0.9" xml:space="preserve">V</text>
<text transform="translate(0 1799.5) scale(1 1.04)" x="1271.62" y="0" font-size="58" font-weight="bold" fill="#000" stroke="#000" stroke-width="0.9" xml:space="preserve">GS</text>
<text transform="translate(0 1767) scale(1 1)" x="1383.63" y="0" font-size="95.7" font-weight="bold" fill="#000" stroke="#000" stroke-width="0.9" xml:space="preserve">[</text>
<text transform="translate(0 1767) scale(1 1.04)" x="1415.5" y="0" font-size="95.7" font-weight="bold" fill="#000" stroke="#000" stroke-width="0.9" xml:space="preserve">V</text>
<text transform="translate(0 1767) scale(1 1)" x="1479.33" y="0" font-size="95.7" font-weight="bold" fill="#000" stroke="#000" stroke-width="0.9" xml:space="preserve">]</text>
<text transform="translate(0 3545) scale(1 1.04)" x="1199.65" y="0" font-size="95.7" font-weight="bold" fill="#000" stroke="#000" stroke-width="0.9" xml:space="preserve">V</text>
<text transform="translate(0 3577.5) scale(1 1.04)" x="1265.92" y="0" font-size="58" font-weight="bold" fill="#000" stroke="#000" stroke-width="0.9" xml:space="preserve">GS</text>
<text transform="translate(0 3545) scale(1 1)" x="1377.93" y="0" font-size="95.7" font-weight="bold" fill="#000" stroke="#000" stroke-width="0.9" xml:space="preserve">[</text>
<text transform="translate(0 3545) scale(1 1.04)" x="1409.8" y="0" font-size="95.7" font-weight="bold" fill="#000" stroke="#000" stroke-width="0.9" xml:space="preserve">V</text>
<text transform="translate(0 3545) scale(1 1)" x="1473.63" y="0" font-size="95.7" font-weight="bold" fill="#000" stroke="#000" stroke-width="0.9" xml:space="preserve">]</text>
<g transform="translate(131.05 931) rotate(-90)">
<text transform="translate(0 0) scale(1 1.04)" x="-6.46" y="0" font-size="96.5" font-weight="bold" fill="#000" stroke="#000" stroke-width="0.9" xml:space="preserve">I</text>
<text transform="translate(0 34) scale(1 1.04)" x="20.41" y="0" font-size="58.2" font-weight="bold" fill="#000" stroke="#000" stroke-width="0.9" xml:space="preserve">DS</text>
<text transform="translate(0 0) scale(1 1)" x="129.58" y="0" font-size="96.5" font-weight="bold" fill="#000" stroke="#000" stroke-width="0.9" xml:space="preserve">[</text>
<text transform="translate(0 0) scale(1 1.04)" x="161.72" y="0" font-size="96.5" font-weight="bold" fill="#000" stroke="#000" stroke-width="0.9" xml:space="preserve">A</text>
<text transform="translate(0 0) scale(1 1)" x="231.41" y="0" font-size="96.5" font-weight="bold" fill="#000" stroke="#000" stroke-width="0.9" xml:space="preserve">]</text>
</g>
<g transform="translate(125.05 2708) rotate(-90)">
<text transform="translate(0 0) scale(1 1.04)" x="-6.46" y="0" font-size="96.5" font-weight="bold" fill="#000" stroke="#000" stroke-width="0.9" xml:space="preserve">I</text>
<text transform="translate(0 34) scale(1 1.04)" x="20.41" y="0" font-size="58.2" font-weight="bold" fill="#000" stroke="#000" stroke-width="0.9" xml:space="preserve">DS</text>
<text transform="translate(0 0) scale(1 1)" x="129.58" y="0" font-size="96.5" font-weight="bold" fill="#000" stroke="#000" stroke-width="0.9" xml:space="preserve">[</text>
<text transform="translate(0 0) scale(1 1.04)" x="161.72" y="0" font-size="96.5" font-weight="bold" fill="#000" stroke="#000" stroke-width="0.9" xml:space="preserve">A</text>
<text transform="translate(0 0) scale(1 1)" x="231.41" y="0" font-size="96.5" font-weight="bold" fill="#000" stroke="#000" stroke-width="0.9" xml:space="preserve">]</text>
</g>
<text transform="translate(0 348) scale(1 1.04)" x="800.47" y="0" font-size="77.07" font-weight="bold" fill="#0000ff" stroke="#0000ff" stroke-width="0.9" xml:space="preserve">VGD-DLCNTFET</text>
<text transform="translate(0 837.5) scale(1 1.04)" x="1333.47" y="0" font-size="76.96" font-weight="bold" fill="#000" stroke="#000" stroke-width="0.9" xml:space="preserve">VGD-DLGNRFET</text>
<text transform="translate(0 2136.5) scale(1 1.04)" x="839.47" y="0" font-size="76.82" font-weight="bold" fill="#0000ff" stroke="#0000ff" stroke-width="0.9" xml:space="preserve">VGD-DLCNTTFET</text>
<text transform="translate(0 2597) scale(1 1.04)" x="1647.98" y="0" font-size="76.14" font-weight="bold" fill="#000" stroke="#000" stroke-width="0.9" xml:space="preserve">VGD-DLGNRTFET</text>
<text transform="translate(0 572.7) scale(1 1.04)" x="404.57" y="0" font-size="63.2" font-weight="bold" fill="#0000ff" stroke="#0000ff" stroke-width="0.9" xml:space="preserve">V</text>
<text transform="translate(0 594.7) scale(1 1.04)" x="446.71" y="0" font-size="38" font-weight="bold" fill="#0000ff" stroke="#0000ff" stroke-width="0.2" xml:space="preserve">S(D)</text>
<text transform="translate(541.75 550.94) scale(0.93 0.76) translate(-18.47 20.92)" x="0" y="0" font-size="63.2" font-weight="bold" fill="#0000ff" stroke="#0000ff" stroke-width="3.57">=</text>
<text transform="translate(0 572.7) scale(1 1.04)" x="560.18" y="0" font-size="63.2" font-weight="bold" fill="#0000ff" stroke="#0000ff" stroke-width="0.9" xml:space="preserve">0.6 V, 1.1 V, 1.6 V</text>
<rect x="744.65" y="564.19" width="12.52" height="10.61" fill="#fff"/>
<rect x="766.74" y="564.19" width="11.72" height="10.61" fill="#fff"/>
<rect x="797.36" y="564.19" width="12.52" height="10.61" fill="#fff"/>
<rect x="819.45" y="564.19" width="11.72" height="10.61" fill="#fff"/>
<rect x="927.34" y="564.19" width="12.52" height="10.61" fill="#fff"/>
<rect x="949.43" y="564.19" width="11.72" height="10.61" fill="#fff"/>
<text transform="translate(0 1302) scale(1 1.04)" x="644.57" y="0" font-size="63.2" font-weight="bold" fill="#000" stroke="#000" stroke-width="0.9" xml:space="preserve">V</text>
<text transform="translate(0 1324) scale(1 1.04)" x="686.71" y="0" font-size="38" font-weight="bold" fill="#000" stroke="#000" stroke-width="0.2" xml:space="preserve">S(D)</text>
<text transform="translate(781.75 1280.24) scale(0.93 0.76) translate(-18.47 20.92)" x="0" y="0" font-size="63.2" font-weight="bold" fill="#000" stroke="#000" stroke-width="3.57">=</text>
<text transform="translate(0 1302) scale(1 1.04)" x="800.18" y="0" font-size="63.2" font-weight="bold" fill="#000" stroke="#000" stroke-width="0.9" xml:space="preserve">0.6 V, 1.1 V, 1.6 V</text>
<rect x="984.65" y="1293.49" width="12.52" height="10.61" fill="#fff"/>
<rect x="1006.74" y="1293.49" width="11.72" height="10.61" fill="#fff"/>
<rect x="1037.36" y="1293.49" width="12.52" height="10.61" fill="#fff"/>
<rect x="1059.45" y="1293.49" width="11.72" height="10.61" fill="#fff"/>
<rect x="1167.34" y="1293.49" width="12.52" height="10.61" fill="#fff"/>
<rect x="1189.43" y="1293.49" width="11.72" height="10.61" fill="#fff"/>
<text transform="translate(0 2309.3) scale(1 1.04)" x="439.37" y="0" font-size="63.3" font-weight="bold" fill="#0000ff" stroke="#0000ff" stroke-width="0.9" xml:space="preserve">V</text>
<text transform="translate(0 2331.1) scale(1 1.04)" x="481.96" y="0" font-size="36.5" font-weight="bold" fill="#0000ff" stroke="#0000ff" stroke-width="0.2" xml:space="preserve">D</text>
<text transform="translate(525.77 2287.51) scale(0.93 0.76) translate(-18.5 20.96)" x="0" y="0" font-size="63.3" font-weight="bold" fill="#0000ff" stroke="#0000ff" stroke-width="3.58">=</text>
<text transform="translate(0 2309.3) scale(1 1.04)" x="544.24" y="0" font-size="63.3" font-weight="bold" fill="#0000ff" stroke="#0000ff" stroke-width="0.9" xml:space="preserve">0.6 V, 1 V, 1.6 V</text>
<rect x="729" y="2300.78" width="12.54" height="10.62" fill="#fff"/>
<rect x="751.12" y="2300.78" width="11.73" height="10.62" fill="#fff"/>
<rect x="859.19" y="2300.78" width="12.54" height="10.62" fill="#fff"/>
<rect x="881.31" y="2300.78" width="11.73" height="10.62" fill="#fff"/>
<text transform="translate(0 3242.4) scale(1 1.04)" x="944.87" y="0" font-size="63.3" font-weight="bold" fill="#000" stroke="#000" stroke-width="0.9" xml:space="preserve">V</text>
<text transform="translate(0 3264.2) scale(1 1.04)" x="987.46" y="0" font-size="36.5" font-weight="bold" fill="#000" stroke="#000" stroke-width="0.2" xml:space="preserve">D</text>
<text transform="translate(1031.27 3220.61) scale(0.93 0.76) translate(-18.5 20.96)" x="0" y="0" font-size="63.3" font-weight="bold" fill="#000" stroke="#000" stroke-width="3.58">=</text>
<text transform="translate(0 3242.4) scale(1 1.04)" x="1049.74" y="0" font-size="63.3" font-weight="bold" fill="#000" stroke="#000" stroke-width="0.9" xml:space="preserve">0.6 V, 1 V, 1.6 V</text>
<rect x="1234.5" y="3233.88" width="12.54" height="10.62" fill="#fff"/>
<rect x="1256.62" y="3233.88" width="11.73" height="10.62" fill="#fff"/>
<rect x="1364.69" y="3233.88" width="12.54" height="10.62" fill="#fff"/>
<rect x="1386.81" y="3233.88" width="11.73" height="10.62" fill="#fff"/>
<text transform="translate(0 1337) scale(1 1.04)" x="1905.36" y="0" font-size="84.3" font-weight="bold" fill="#000" stroke="#000" stroke-width="0.9" xml:space="preserve">L</text>
<text transform="translate(0 1365.6) scale(1 1.04)" x="1956.91" y="0" font-size="51" font-weight="bold" fill="#000" stroke="#000" stroke-width="0.9" xml:space="preserve">G</text>
<text transform="translate(2018.84 1307.98) scale(0.93 0.76) translate(-24.64 27.91)" x="0" y="0" font-size="84.3" font-weight="bold" fill="#000" stroke="#000" stroke-width="4.76">=</text>
<text transform="translate(0 1337) scale(1 1.04)" x="2043.43" y="0" font-size="84.3" font-weight="bold" fill="#000" stroke="#000" stroke-width="0.9" xml:space="preserve"> 8 nm</text>
<text transform="translate(0 1449.4) scale(1 1.04)" x="1898.92" y="0" font-size="84.3" font-weight="bold" fill="#000" stroke="#000" stroke-width="0.9" xml:space="preserve">V</text>
<text transform="translate(0 1476) scale(1 1.04)" x="1955.72" y="0" font-size="49.1" font-weight="bold" fill="#000" stroke="#000" stroke-width="0.9" xml:space="preserve">DS</text>
<text transform="translate(2048.94 1420.38) scale(0.93 0.76) translate(-24.64 27.91)" x="0" y="0" font-size="84.3" font-weight="bold" fill="#000" stroke="#000" stroke-width="4.76">=</text>
<text transform="translate(0 1449.4) scale(1 1.04)" x="2073.53" y="0" font-size="84.3" font-weight="bold" fill="#000" stroke="#000" stroke-width="0.9" xml:space="preserve"> 0.4 V</text>
<text transform="translate(0 3115) scale(1 1.04)" x="1897.36" y="0" font-size="84.3" font-weight="bold" fill="#000" stroke="#000" stroke-width="0.9" xml:space="preserve">L</text>
<text transform="translate(0 3143.6) scale(1 1.04)" x="1948.91" y="0" font-size="51" font-weight="bold" fill="#000" stroke="#000" stroke-width="0.9" xml:space="preserve">G</text>
<text transform="translate(2010.84 3085.98) scale(0.93 0.76) translate(-24.64 27.91)" x="0" y="0" font-size="84.3" font-weight="bold" fill="#000" stroke="#000" stroke-width="4.76">=</text>
<text transform="translate(0 3115) scale(1 1.04)" x="2035.43" y="0" font-size="84.3" font-weight="bold" fill="#000" stroke="#000" stroke-width="0.9" xml:space="preserve"> 8 nm</text>
<text transform="translate(0 3227) scale(1 1.04)" x="1894.42" y="0" font-size="84.3" font-weight="bold" fill="#000" stroke="#000" stroke-width="0.9" xml:space="preserve">V</text>
<text transform="translate(0 3253.6) scale(1 1.04)" x="1951.22" y="0" font-size="49.1" font-weight="bold" fill="#000" stroke="#000" stroke-width="0.9" xml:space="preserve">DS</text>
<text transform="translate(2044.44 3197.98) scale(0.93 0.76) translate(-24.64 27.91)" x="0" y="0" font-size="84.3" font-weight="bold" fill="#000" stroke="#000" stroke-width="4.76">=</text>
<text transform="translate(0 3227) scale(1 1.04)" x="2069.03" y="0" font-size="84.3" font-weight="bold" fill="#000" stroke="#000" stroke-width="0.9" xml:space="preserve"> 0.4 V</text>
</svg>
</body></html>
